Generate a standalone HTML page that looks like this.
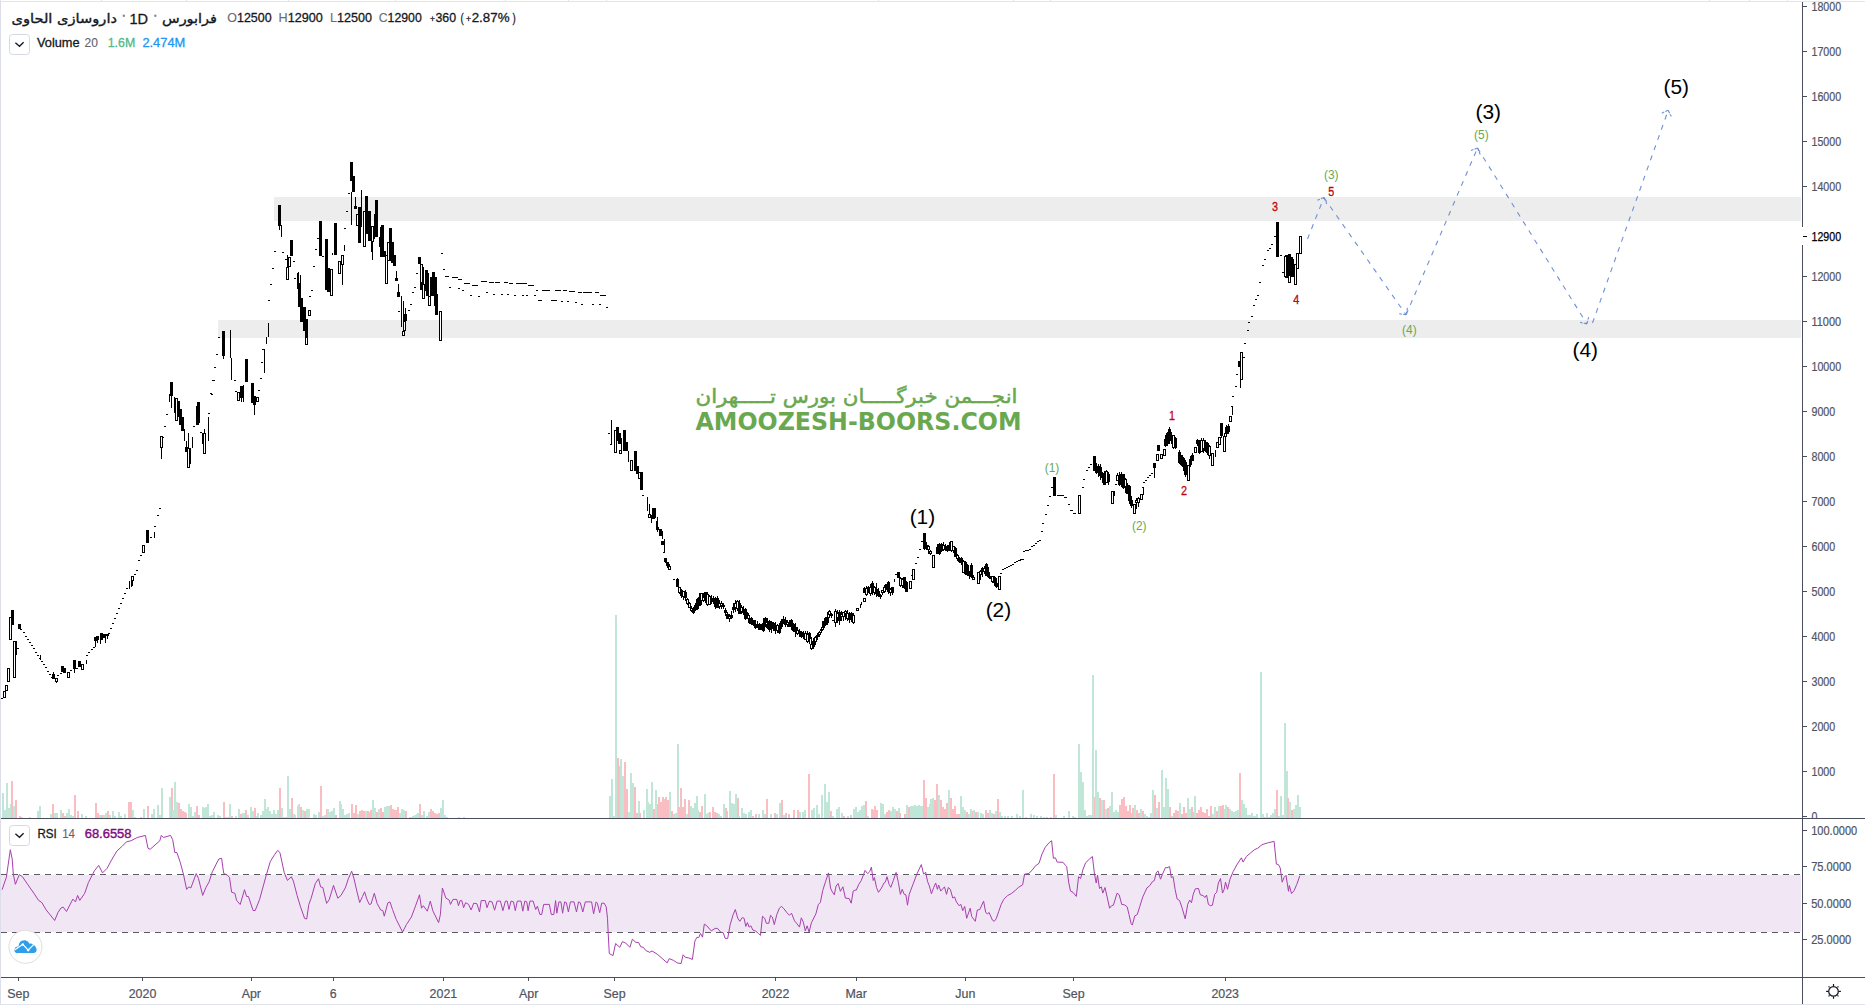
<!DOCTYPE html>
<html lang="fa"><head><meta charset="utf-8"><title>داروسازی الحاوی - 1D</title>
<style>html,body{margin:0;padding:0;background:#fff;overflow:hidden}svg{display:block}</style></head>
<body>
<svg width="1865" height="1005" viewBox="0 0 1865 1005" style="display:block;font-family:'Liberation Sans','DejaVu Sans',sans-serif">
<rect width="1865" height="1005" fill="#fff"/>
<g shape-rendering="crispEdges">
<rect x="0" y="0" width="1" height="1005" fill="#dcdfea"/>
<rect x="0" y="1" width="1865" height="1" fill="#e2e5ee"/>
<rect x="101" y="0" width="1" height="1" fill="#e2e5ee"/>
<rect x="186" y="0" width="1" height="1" fill="#e2e5ee"/>
<rect x="288" y="0" width="1" height="1" fill="#e2e5ee"/>
<rect x="395" y="0" width="1" height="1" fill="#e2e5ee"/>
<rect x="505" y="0" width="1" height="1" fill="#e2e5ee"/>
<rect x="568" y="0" width="1" height="1" fill="#e2e5ee"/>
<rect x="606" y="0" width="1" height="1" fill="#e2e5ee"/>
<rect x="878" y="0" width="1" height="1" fill="#e2e5ee"/>
<rect x="1013" y="0" width="1" height="1" fill="#e2e5ee"/>
<rect x="1050" y="0" width="1" height="1" fill="#e2e5ee"/>
<rect x="1709" y="0" width="1" height="1" fill="#e2e5ee"/>
<rect x="1749" y="0" width="1" height="1" fill="#e2e5ee"/>
<rect x="1787" y="0" width="1" height="1" fill="#e2e5ee"/>
<rect x="0" y="1004" width="1865" height="1" fill="#e1e4ec"/>
</g>
<g shape-rendering="crispEdges"><rect x="273.5" y="196.5" width="1527.5" height="24.8" fill="#ededed"/><rect x="217.6" y="320.3" width="1583.4" height="17.2" fill="#ededed"/></g>
<g shape-rendering="crispEdges"><rect x="2" y="793.1" width="2" height="24.9" fill="#bfe6d6"/><rect x="4" y="809.5" width="2" height="8.5" fill="#bfe6d6"/><rect x="6" y="783.0" width="2" height="35.0" fill="#bfe6d6"/><rect x="8" y="808.2" width="2" height="9.8" fill="#bfe6d6"/><rect x="10" y="804.4" width="2" height="13.6" fill="#bfe6d6"/><rect x="11" y="781.2" width="2" height="36.8" fill="#f9bdc2"/><rect x="13" y="805.7" width="2" height="12.3" fill="#bfe6d6"/><rect x="15" y="800.1" width="2" height="17.9" fill="#f9bdc2"/><rect x="19" y="816.3" width="2" height="1.7" fill="#f9bdc2"/><rect x="21" y="817.3" width="2" height="0.7" fill="#bfe6d6"/><rect x="29" y="816.5" width="2" height="1.5" fill="#bfe6d6"/><rect x="37" y="811.2" width="2" height="6.8" fill="#bfe6d6"/><rect x="39" y="806.2" width="2" height="11.8" fill="#bfe6d6"/><rect x="50" y="813.8" width="2" height="4.2" fill="#bfe6d6"/><rect x="52" y="803.9" width="2" height="14.1" fill="#f9bdc2"/><rect x="54" y="813.2" width="2" height="4.8" fill="#bfe6d6"/><rect x="56" y="813.2" width="2" height="4.8" fill="#bfe6d6"/><rect x="60" y="810.0" width="2" height="8.0" fill="#bfe6d6"/><rect x="62" y="813.2" width="2" height="4.8" fill="#f9bdc2"/><rect x="64" y="815.8" width="2" height="2.2" fill="#f9bdc2"/><rect x="66" y="813.2" width="2" height="4.8" fill="#bfe6d6"/><rect x="68" y="808.7" width="2" height="9.3" fill="#bfe6d6"/><rect x="70" y="815.3" width="2" height="2.7" fill="#bfe6d6"/><rect x="72" y="815.8" width="2" height="2.2" fill="#bfe6d6"/><rect x="74" y="795.1" width="2" height="22.9" fill="#f9bdc2"/><rect x="77" y="811.2" width="2" height="6.8" fill="#f9bdc2"/><rect x="81" y="814.0" width="2" height="4.0" fill="#bfe6d6"/><rect x="85" y="816.3" width="2" height="1.7" fill="#bfe6d6"/><rect x="95" y="803.2" width="2" height="14.8" fill="#f9bdc2"/><rect x="97" y="813.2" width="2" height="4.8" fill="#f9bdc2"/><rect x="99" y="814.5" width="2" height="3.5" fill="#bfe6d6"/><rect x="101" y="814.5" width="2" height="3.5" fill="#f9bdc2"/><rect x="103" y="815.3" width="2" height="2.7" fill="#bfe6d6"/><rect x="105" y="813.2" width="2" height="4.8" fill="#bfe6d6"/><rect x="107" y="811.2" width="2" height="6.8" fill="#f9bdc2"/><rect x="109" y="814.5" width="2" height="3.5" fill="#bfe6d6"/><rect x="112" y="811.2" width="2" height="6.8" fill="#bfe6d6"/><rect x="114" y="815.8" width="2" height="2.2" fill="#bfe6d6"/><rect x="118" y="812.0" width="2" height="6.0" fill="#bfe6d6"/><rect x="120" y="815.8" width="2" height="2.2" fill="#bfe6d6"/><rect x="124" y="814.0" width="2" height="4.0" fill="#bfe6d6"/><rect x="128" y="801.9" width="2" height="16.1" fill="#f9bdc2"/><rect x="130" y="801.9" width="2" height="16.1" fill="#f9bdc2"/><rect x="132" y="810.0" width="2" height="8.0" fill="#bfe6d6"/><rect x="134" y="817.3" width="2" height="0.7" fill="#bfe6d6"/><rect x="140" y="817.0" width="2" height="1.0" fill="#bfe6d6"/><rect x="143" y="809.0" width="2" height="9.0" fill="#bfe6d6"/><rect x="147" y="806.2" width="2" height="11.8" fill="#f9bdc2"/><rect x="151" y="813.8" width="2" height="4.2" fill="#bfe6d6"/><rect x="153" y="809.0" width="2" height="9.0" fill="#bfe6d6"/><rect x="157" y="805.2" width="2" height="12.8" fill="#bfe6d6"/><rect x="159" y="815.3" width="2" height="2.7" fill="#bfe6d6"/><rect x="161" y="788.0" width="2" height="30.0" fill="#bfe6d6"/><rect x="169" y="796.9" width="2" height="21.1" fill="#bfe6d6"/><rect x="171" y="788.0" width="2" height="30.0" fill="#f9bdc2"/><rect x="172" y="809.5" width="2" height="8.5" fill="#bfe6d6"/><rect x="174" y="782.0" width="2" height="36.0" fill="#bfe6d6"/><rect x="176" y="801.9" width="2" height="16.1" fill="#bfe6d6"/><rect x="178" y="803.2" width="2" height="14.8" fill="#f9bdc2"/><rect x="180" y="808.7" width="2" height="9.3" fill="#f9bdc2"/><rect x="182" y="810.7" width="2" height="7.3" fill="#f9bdc2"/><rect x="184" y="812.0" width="2" height="6.0" fill="#f9bdc2"/><rect x="185" y="812.7" width="2" height="5.3" fill="#f9bdc2"/><rect x="188" y="804.4" width="2" height="13.6" fill="#bfe6d6"/><rect x="190" y="806.9" width="2" height="11.1" fill="#bfe6d6"/><rect x="192" y="815.8" width="2" height="2.2" fill="#bfe6d6"/><rect x="194" y="812.0" width="2" height="6.0" fill="#bfe6d6"/><rect x="196" y="806.2" width="2" height="11.8" fill="#f9bdc2"/><rect x="198" y="814.5" width="2" height="3.5" fill="#f9bdc2"/><rect x="202" y="806.9" width="2" height="11.1" fill="#bfe6d6"/><rect x="204" y="807.7" width="2" height="10.3" fill="#bfe6d6"/><rect x="205" y="806.9" width="2" height="11.1" fill="#bfe6d6"/><rect x="207" y="803.9" width="2" height="14.1" fill="#bfe6d6"/><rect x="209" y="815.8" width="2" height="2.2" fill="#bfe6d6"/><rect x="211" y="815.3" width="2" height="2.7" fill="#bfe6d6"/><rect x="213" y="812.0" width="2" height="6.0" fill="#bfe6d6"/><rect x="217" y="815.3" width="2" height="2.7" fill="#bfe6d6"/><rect x="219" y="816.3" width="2" height="1.7" fill="#bfe6d6"/><rect x="223" y="801.9" width="2" height="16.1" fill="#f9bdc2"/><rect x="225" y="817.0" width="2" height="1.0" fill="#bfe6d6"/><rect x="227" y="817.0" width="2" height="1.0" fill="#bfe6d6"/><rect x="229" y="803.9" width="2" height="14.1" fill="#bfe6d6"/><rect x="231" y="816.3" width="2" height="1.7" fill="#f9bdc2"/><rect x="235" y="815.8" width="2" height="2.2" fill="#bfe6d6"/><rect x="238" y="809.0" width="2" height="9.0" fill="#bfe6d6"/><rect x="240" y="814.0" width="2" height="4.0" fill="#f9bdc2"/><rect x="242" y="812.5" width="2" height="5.5" fill="#bfe6d6"/><rect x="243" y="812.7" width="2" height="5.3" fill="#bfe6d6"/><rect x="245" y="810.2" width="2" height="7.8" fill="#f9bdc2"/><rect x="247" y="814.5" width="2" height="3.5" fill="#bfe6d6"/><rect x="250" y="806.9" width="2" height="11.1" fill="#bfe6d6"/><rect x="252" y="810.7" width="2" height="7.3" fill="#bfe6d6"/><rect x="254" y="808.2" width="2" height="9.8" fill="#f9bdc2"/><rect x="256" y="815.8" width="2" height="2.2" fill="#bfe6d6"/><rect x="257" y="813.2" width="2" height="4.8" fill="#bfe6d6"/><rect x="260" y="815.3" width="2" height="2.7" fill="#bfe6d6"/><rect x="262" y="810.7" width="2" height="7.3" fill="#bfe6d6"/><rect x="264" y="798.9" width="2" height="19.1" fill="#bfe6d6"/><rect x="266" y="808.7" width="2" height="9.3" fill="#bfe6d6"/><rect x="267" y="806.9" width="2" height="11.1" fill="#bfe6d6"/><rect x="269" y="810.7" width="2" height="7.3" fill="#bfe6d6"/><rect x="271" y="813.8" width="2" height="4.2" fill="#bfe6d6"/><rect x="273" y="810.2" width="2" height="7.8" fill="#bfe6d6"/><rect x="275" y="813.8" width="2" height="4.2" fill="#bfe6d6"/><rect x="277" y="809.5" width="2" height="8.5" fill="#bfe6d6"/><rect x="279" y="788.0" width="2" height="30.0" fill="#f9bdc2"/><rect x="281" y="808.2" width="2" height="9.8" fill="#bfe6d6"/><rect x="283" y="817.0" width="2" height="1.0" fill="#bfe6d6"/><rect x="285" y="816.5" width="2" height="1.5" fill="#bfe6d6"/><rect x="287" y="775.9" width="2" height="42.1" fill="#bfe6d6"/><rect x="289" y="808.7" width="2" height="9.3" fill="#bfe6d6"/><rect x="291" y="798.1" width="2" height="19.9" fill="#f9bdc2"/><rect x="293" y="814.0" width="2" height="4.0" fill="#bfe6d6"/><rect x="294" y="814.5" width="2" height="3.5" fill="#bfe6d6"/><rect x="297" y="805.7" width="2" height="12.3" fill="#bfe6d6"/><rect x="298" y="804.4" width="2" height="13.6" fill="#bfe6d6"/><rect x="300" y="806.9" width="2" height="11.1" fill="#f9bdc2"/><rect x="302" y="809.5" width="2" height="8.5" fill="#bfe6d6"/><rect x="304" y="810.7" width="2" height="7.3" fill="#f9bdc2"/><rect x="306" y="809.0" width="2" height="9.0" fill="#bfe6d6"/><rect x="308" y="809.0" width="2" height="9.0" fill="#bfe6d6"/><rect x="313" y="814.0" width="2" height="4.0" fill="#bfe6d6"/><rect x="315" y="814.5" width="2" height="3.5" fill="#bfe6d6"/><rect x="318" y="812.0" width="2" height="6.0" fill="#bfe6d6"/><rect x="320" y="786.0" width="2" height="32.0" fill="#f9bdc2"/><rect x="322" y="815.8" width="2" height="2.2" fill="#bfe6d6"/><rect x="324" y="814.5" width="2" height="3.5" fill="#bfe6d6"/><rect x="326" y="809.0" width="2" height="9.0" fill="#f9bdc2"/><rect x="327" y="809.0" width="2" height="9.0" fill="#bfe6d6"/><rect x="329" y="812.0" width="2" height="6.0" fill="#bfe6d6"/><rect x="331" y="810.7" width="2" height="7.3" fill="#bfe6d6"/><rect x="333" y="808.2" width="2" height="9.8" fill="#bfe6d6"/><rect x="335" y="815.3" width="2" height="2.7" fill="#f9bdc2"/><rect x="339" y="800.6" width="2" height="17.4" fill="#bfe6d6"/><rect x="340" y="804.4" width="2" height="13.6" fill="#bfe6d6"/><rect x="342" y="808.7" width="2" height="9.3" fill="#bfe6d6"/><rect x="344" y="814.5" width="2" height="3.5" fill="#bfe6d6"/><rect x="346" y="814.0" width="2" height="4.0" fill="#bfe6d6"/><rect x="348" y="813.2" width="2" height="4.8" fill="#bfe6d6"/><rect x="351" y="803.9" width="2" height="14.1" fill="#f9bdc2"/><rect x="353" y="812.5" width="2" height="5.5" fill="#f9bdc2"/><rect x="355" y="805.2" width="2" height="12.8" fill="#f9bdc2"/><rect x="357" y="813.8" width="2" height="4.2" fill="#bfe6d6"/><rect x="359" y="810.7" width="2" height="7.3" fill="#f9bdc2"/><rect x="361" y="810.0" width="2" height="8.0" fill="#f9bdc2"/><rect x="363" y="811.2" width="2" height="6.8" fill="#f9bdc2"/><rect x="365" y="810.7" width="2" height="7.3" fill="#bfe6d6"/><rect x="367" y="811.2" width="2" height="6.8" fill="#f9bdc2"/><rect x="369" y="812.0" width="2" height="6.0" fill="#f9bdc2"/><rect x="370" y="810.0" width="2" height="8.0" fill="#f9bdc2"/><rect x="372" y="800.1" width="2" height="17.9" fill="#bfe6d6"/><rect x="374" y="808.2" width="2" height="9.8" fill="#bfe6d6"/><rect x="376" y="812.0" width="2" height="6.0" fill="#f9bdc2"/><rect x="378" y="808.7" width="2" height="9.3" fill="#bfe6d6"/><rect x="380" y="808.2" width="2" height="9.8" fill="#f9bdc2"/><rect x="382" y="812.0" width="2" height="6.0" fill="#f9bdc2"/><rect x="384" y="807.4" width="2" height="10.6" fill="#bfe6d6"/><rect x="386" y="805.7" width="2" height="12.3" fill="#bfe6d6"/><rect x="388" y="806.2" width="2" height="11.8" fill="#bfe6d6"/><rect x="390" y="805.2" width="2" height="12.8" fill="#f9bdc2"/><rect x="392" y="808.7" width="2" height="9.3" fill="#f9bdc2"/><rect x="393" y="809.5" width="2" height="8.5" fill="#f9bdc2"/><rect x="395" y="810.0" width="2" height="8.0" fill="#f9bdc2"/><rect x="397" y="806.9" width="2" height="11.1" fill="#f9bdc2"/><rect x="399" y="812.7" width="2" height="5.3" fill="#bfe6d6"/><rect x="401" y="809.0" width="2" height="9.0" fill="#bfe6d6"/><rect x="403" y="810.0" width="2" height="8.0" fill="#bfe6d6"/><rect x="405" y="811.2" width="2" height="6.8" fill="#f9bdc2"/><rect x="409" y="817.0" width="2" height="1.0" fill="#bfe6d6"/><rect x="411" y="816.5" width="2" height="1.5" fill="#bfe6d6"/><rect x="412" y="815.8" width="2" height="2.2" fill="#bfe6d6"/><rect x="414" y="814.5" width="2" height="3.5" fill="#bfe6d6"/><rect x="416" y="813.8" width="2" height="4.2" fill="#bfe6d6"/><rect x="417" y="813.2" width="2" height="4.8" fill="#bfe6d6"/><rect x="419" y="803.9" width="2" height="14.1" fill="#f9bdc2"/><rect x="421" y="814.5" width="2" height="3.5" fill="#bfe6d6"/><rect x="423" y="811.2" width="2" height="6.8" fill="#bfe6d6"/><rect x="426" y="816.3" width="2" height="1.7" fill="#bfe6d6"/><rect x="428" y="812.0" width="2" height="6.0" fill="#bfe6d6"/><rect x="430" y="808.7" width="2" height="9.3" fill="#f9bdc2"/><rect x="432" y="811.2" width="2" height="6.8" fill="#f9bdc2"/><rect x="434" y="812.7" width="2" height="5.3" fill="#f9bdc2"/><rect x="436" y="813.8" width="2" height="4.2" fill="#f9bdc2"/><rect x="438" y="813.2" width="2" height="4.8" fill="#f9bdc2"/><rect x="440" y="807.7" width="2" height="10.3" fill="#bfe6d6"/><rect x="442" y="800.1" width="2" height="17.9" fill="#bfe6d6"/><rect x="444" y="814.5" width="2" height="3.5" fill="#bfe6d6"/><rect x="446" y="817.0" width="2" height="1.0" fill="#bfe6d6"/><rect x="458" y="817.3" width="2" height="0.7" fill="#bfe6d6"/><rect x="463" y="817.3" width="2" height="0.7" fill="#bfe6d6"/><rect x="609" y="796.1" width="2" height="21.9" fill="#bfe6d6"/><rect x="611" y="778.9" width="2" height="39.1" fill="#bfe6d6"/><rect x="613" y="815.5" width="2" height="2.5" fill="#bfe6d6"/><rect x="615" y="615.1" width="2" height="202.9" fill="#bfe6d6"/><rect x="617" y="757.5" width="2" height="60.5" fill="#f9bdc2"/><rect x="618" y="766.3" width="2" height="51.7" fill="#f9bdc2"/><rect x="620" y="758.8" width="2" height="59.2" fill="#bfe6d6"/><rect x="622" y="776.4" width="2" height="41.6" fill="#bfe6d6"/><rect x="624" y="762.0" width="2" height="56.0" fill="#f9bdc2"/><rect x="626" y="789.0" width="2" height="29.0" fill="#f9bdc2"/><rect x="628" y="811.7" width="2" height="6.3" fill="#bfe6d6"/><rect x="630" y="773.1" width="2" height="44.9" fill="#bfe6d6"/><rect x="632" y="782.7" width="2" height="35.3" fill="#bfe6d6"/><rect x="634" y="786.5" width="2" height="31.5" fill="#f9bdc2"/><rect x="636" y="813.0" width="2" height="5.0" fill="#f9bdc2"/><rect x="638" y="801.1" width="2" height="16.9" fill="#bfe6d6"/><rect x="639" y="813.0" width="2" height="5.0" fill="#f9bdc2"/><rect x="643" y="810.4" width="2" height="7.6" fill="#bfe6d6"/><rect x="646" y="788.5" width="2" height="29.5" fill="#bfe6d6"/><rect x="647" y="801.6" width="2" height="16.4" fill="#bfe6d6"/><rect x="649" y="803.6" width="2" height="14.4" fill="#bfe6d6"/><rect x="651" y="782.0" width="2" height="36.0" fill="#bfe6d6"/><rect x="653" y="809.2" width="2" height="8.8" fill="#f9bdc2"/><rect x="655" y="789.5" width="2" height="28.5" fill="#bfe6d6"/><rect x="657" y="804.1" width="2" height="13.9" fill="#f9bdc2"/><rect x="658" y="797.1" width="2" height="20.9" fill="#f9bdc2"/><rect x="660" y="801.6" width="2" height="16.4" fill="#f9bdc2"/><rect x="662" y="797.1" width="2" height="20.9" fill="#f9bdc2"/><rect x="664" y="799.1" width="2" height="18.9" fill="#f9bdc2"/><rect x="665" y="796.6" width="2" height="21.4" fill="#f9bdc2"/><rect x="667" y="799.6" width="2" height="18.4" fill="#f9bdc2"/><rect x="669" y="792.3" width="2" height="25.7" fill="#bfe6d6"/><rect x="671" y="811.2" width="2" height="6.8" fill="#f9bdc2"/><rect x="673" y="814.2" width="2" height="3.8" fill="#bfe6d6"/><rect x="675" y="813.0" width="2" height="5.0" fill="#bfe6d6"/><rect x="677" y="744.2" width="2" height="73.8" fill="#bfe6d6"/><rect x="678" y="807.2" width="2" height="10.8" fill="#f9bdc2"/><rect x="680" y="787.8" width="2" height="30.2" fill="#f9bdc2"/><rect x="682" y="806.7" width="2" height="11.3" fill="#f9bdc2"/><rect x="684" y="799.1" width="2" height="18.9" fill="#f9bdc2"/><rect x="686" y="813.7" width="2" height="4.3" fill="#bfe6d6"/><rect x="688" y="800.4" width="2" height="17.6" fill="#f9bdc2"/><rect x="690" y="806.1" width="2" height="11.9" fill="#bfe6d6"/><rect x="692" y="807.9" width="2" height="10.1" fill="#bfe6d6"/><rect x="694" y="802.9" width="2" height="15.1" fill="#bfe6d6"/><rect x="696" y="796.1" width="2" height="21.9" fill="#bfe6d6"/><rect x="697" y="810.4" width="2" height="7.6" fill="#bfe6d6"/><rect x="699" y="811.7" width="2" height="6.3" fill="#f9bdc2"/><rect x="701" y="806.1" width="2" height="11.9" fill="#f9bdc2"/><rect x="704" y="794.1" width="2" height="23.9" fill="#bfe6d6"/><rect x="706" y="813.7" width="2" height="4.3" fill="#bfe6d6"/><rect x="707" y="813.0" width="2" height="5.0" fill="#bfe6d6"/><rect x="709" y="811.7" width="2" height="6.3" fill="#f9bdc2"/><rect x="712" y="807.2" width="2" height="10.8" fill="#f9bdc2"/><rect x="714" y="812.4" width="2" height="5.6" fill="#f9bdc2"/><rect x="716" y="813.0" width="2" height="5.0" fill="#f9bdc2"/><rect x="718" y="814.2" width="2" height="3.8" fill="#bfe6d6"/><rect x="720" y="815.5" width="2" height="2.5" fill="#bfe6d6"/><rect x="723" y="804.1" width="2" height="13.9" fill="#bfe6d6"/><rect x="725" y="807.9" width="2" height="10.1" fill="#f9bdc2"/><rect x="726" y="811.2" width="2" height="6.8" fill="#f9bdc2"/><rect x="729" y="791.0" width="2" height="27.0" fill="#bfe6d6"/><rect x="731" y="802.9" width="2" height="15.1" fill="#bfe6d6"/><rect x="733" y="803.6" width="2" height="14.4" fill="#bfe6d6"/><rect x="735" y="794.1" width="2" height="23.9" fill="#bfe6d6"/><rect x="737" y="798.3" width="2" height="19.7" fill="#f9bdc2"/><rect x="738" y="815.5" width="2" height="2.5" fill="#bfe6d6"/><rect x="741" y="807.9" width="2" height="10.1" fill="#bfe6d6"/><rect x="743" y="813.0" width="2" height="5.0" fill="#bfe6d6"/><rect x="745" y="814.2" width="2" height="3.8" fill="#bfe6d6"/><rect x="748" y="811.7" width="2" height="6.3" fill="#bfe6d6"/><rect x="750" y="810.4" width="2" height="7.6" fill="#bfe6d6"/><rect x="752" y="815.5" width="2" height="2.5" fill="#f9bdc2"/><rect x="755" y="813.7" width="2" height="4.3" fill="#f9bdc2"/><rect x="758" y="814.2" width="2" height="3.8" fill="#bfe6d6"/><rect x="762" y="810.4" width="2" height="7.6" fill="#bfe6d6"/><rect x="764" y="814.2" width="2" height="3.8" fill="#bfe6d6"/><rect x="766" y="799.1" width="2" height="18.9" fill="#f9bdc2"/><rect x="770" y="814.2" width="2" height="3.8" fill="#bfe6d6"/><rect x="774" y="813.0" width="2" height="5.0" fill="#f9bdc2"/><rect x="776" y="814.2" width="2" height="3.8" fill="#bfe6d6"/><rect x="779" y="802.9" width="2" height="15.1" fill="#bfe6d6"/><rect x="781" y="800.4" width="2" height="17.6" fill="#f9bdc2"/><rect x="783" y="814.7" width="2" height="3.3" fill="#bfe6d6"/><rect x="785" y="813.0" width="2" height="5.0" fill="#f9bdc2"/><rect x="788" y="813.7" width="2" height="4.3" fill="#f9bdc2"/><rect x="793" y="810.4" width="2" height="7.6" fill="#f9bdc2"/><rect x="797" y="809.9" width="2" height="8.1" fill="#f9bdc2"/><rect x="799" y="811.7" width="2" height="6.3" fill="#bfe6d6"/><rect x="802" y="812.2" width="2" height="5.8" fill="#bfe6d6"/><rect x="804" y="809.7" width="2" height="8.3" fill="#bfe6d6"/><rect x="808" y="773.9" width="2" height="44.1" fill="#f9bdc2"/><rect x="811" y="809.7" width="2" height="8.3" fill="#bfe6d6"/><rect x="813" y="807.9" width="2" height="10.1" fill="#bfe6d6"/><rect x="816" y="805.4" width="2" height="12.6" fill="#bfe6d6"/><rect x="818" y="814.2" width="2" height="3.8" fill="#bfe6d6"/><rect x="821" y="795.3" width="2" height="22.7" fill="#bfe6d6"/><rect x="824" y="784.0" width="2" height="34.0" fill="#bfe6d6"/><rect x="826" y="801.6" width="2" height="16.4" fill="#bfe6d6"/><rect x="828" y="792.0" width="2" height="26.0" fill="#bfe6d6"/><rect x="830" y="811.2" width="2" height="6.8" fill="#f9bdc2"/><rect x="832" y="815.5" width="2" height="2.5" fill="#bfe6d6"/><rect x="836" y="808.7" width="2" height="9.3" fill="#bfe6d6"/><rect x="838" y="807.2" width="2" height="10.8" fill="#bfe6d6"/><rect x="841" y="813.0" width="2" height="5.0" fill="#bfe6d6"/><rect x="843" y="815.5" width="2" height="2.5" fill="#f9bdc2"/><rect x="847" y="815.5" width="2" height="2.5" fill="#bfe6d6"/><rect x="850" y="814.7" width="2" height="3.3" fill="#f9bdc2"/><rect x="853" y="808.7" width="2" height="9.3" fill="#bfe6d6"/><rect x="855" y="807.2" width="2" height="10.8" fill="#bfe6d6"/><rect x="857" y="811.7" width="2" height="6.3" fill="#bfe6d6"/><rect x="859" y="810.4" width="2" height="7.6" fill="#bfe6d6"/><rect x="861" y="806.1" width="2" height="11.9" fill="#bfe6d6"/><rect x="863" y="805.4" width="2" height="12.6" fill="#bfe6d6"/><rect x="865" y="801.1" width="2" height="16.9" fill="#f9bdc2"/><rect x="867" y="815.5" width="2" height="2.5" fill="#bfe6d6"/><rect x="871" y="808.7" width="2" height="9.3" fill="#f9bdc2"/><rect x="873" y="809.7" width="2" height="8.3" fill="#f9bdc2"/><rect x="874" y="806.1" width="2" height="11.9" fill="#f9bdc2"/><rect x="876" y="809.7" width="2" height="8.3" fill="#f9bdc2"/><rect x="880" y="802.9" width="2" height="15.1" fill="#bfe6d6"/><rect x="882" y="804.1" width="2" height="13.9" fill="#bfe6d6"/><rect x="884" y="814.2" width="2" height="3.8" fill="#bfe6d6"/><rect x="886" y="811.7" width="2" height="6.3" fill="#f9bdc2"/><rect x="888" y="810.4" width="2" height="7.6" fill="#f9bdc2"/><rect x="890" y="811.2" width="2" height="6.8" fill="#bfe6d6"/><rect x="892" y="807.2" width="2" height="10.8" fill="#bfe6d6"/><rect x="894" y="808.7" width="2" height="9.3" fill="#bfe6d6"/><rect x="896" y="811.2" width="2" height="6.8" fill="#f9bdc2"/><rect x="898" y="807.9" width="2" height="10.1" fill="#bfe6d6"/><rect x="899" y="813.0" width="2" height="5.0" fill="#f9bdc2"/><rect x="904" y="813.7" width="2" height="4.3" fill="#f9bdc2"/><rect x="906" y="805.4" width="2" height="12.6" fill="#bfe6d6"/><rect x="908" y="806.7" width="2" height="11.3" fill="#f9bdc2"/><rect x="910" y="806.1" width="2" height="11.9" fill="#bfe6d6"/><rect x="912" y="805.6" width="2" height="12.4" fill="#bfe6d6"/><rect x="914" y="805.1" width="2" height="12.9" fill="#bfe6d6"/><rect x="916" y="805.6" width="2" height="12.4" fill="#bfe6d6"/><rect x="918" y="805.4" width="2" height="12.6" fill="#bfe6d6"/><rect x="920" y="805.9" width="2" height="12.1" fill="#bfe6d6"/><rect x="922" y="805.6" width="2" height="12.4" fill="#bfe6d6"/><rect x="923" y="779.9" width="2" height="38.1" fill="#f9bdc2"/><rect x="925" y="797.8" width="2" height="20.2" fill="#f9bdc2"/><rect x="927" y="806.7" width="2" height="11.3" fill="#bfe6d6"/><rect x="929" y="804.1" width="2" height="13.9" fill="#bfe6d6"/><rect x="930" y="799.1" width="2" height="18.9" fill="#bfe6d6"/><rect x="932" y="798.3" width="2" height="19.7" fill="#bfe6d6"/><rect x="934" y="800.4" width="2" height="17.6" fill="#f9bdc2"/><rect x="936" y="784.0" width="2" height="34.0" fill="#f9bdc2"/><rect x="938" y="795.3" width="2" height="22.7" fill="#bfe6d6"/><rect x="940" y="800.4" width="2" height="17.6" fill="#f9bdc2"/><rect x="942" y="807.2" width="2" height="10.8" fill="#f9bdc2"/><rect x="944" y="809.2" width="2" height="8.8" fill="#f9bdc2"/><rect x="946" y="802.9" width="2" height="15.1" fill="#f9bdc2"/><rect x="948" y="790.3" width="2" height="27.7" fill="#bfe6d6"/><rect x="950" y="798.3" width="2" height="19.7" fill="#f9bdc2"/><rect x="952" y="809.2" width="2" height="8.8" fill="#f9bdc2"/><rect x="954" y="806.1" width="2" height="11.9" fill="#f9bdc2"/><rect x="956" y="813.7" width="2" height="4.3" fill="#f9bdc2"/><rect x="958" y="814.2" width="2" height="3.8" fill="#f9bdc2"/><rect x="960" y="796.1" width="2" height="21.9" fill="#bfe6d6"/><rect x="962" y="806.7" width="2" height="11.3" fill="#bfe6d6"/><rect x="964" y="810.4" width="2" height="7.6" fill="#bfe6d6"/><rect x="966" y="811.7" width="2" height="6.3" fill="#f9bdc2"/><rect x="968" y="813.7" width="2" height="4.3" fill="#bfe6d6"/><rect x="970" y="809.2" width="2" height="8.8" fill="#bfe6d6"/><rect x="972" y="811.2" width="2" height="6.8" fill="#f9bdc2"/><rect x="973" y="810.4" width="2" height="7.6" fill="#bfe6d6"/><rect x="975" y="811.7" width="2" height="6.3" fill="#f9bdc2"/><rect x="977" y="812.4" width="2" height="5.6" fill="#bfe6d6"/><rect x="980" y="813.0" width="2" height="5.0" fill="#bfe6d6"/><rect x="982" y="814.2" width="2" height="3.8" fill="#bfe6d6"/><rect x="985" y="810.4" width="2" height="7.6" fill="#f9bdc2"/><rect x="987" y="813.0" width="2" height="5.0" fill="#f9bdc2"/><rect x="989" y="810.4" width="2" height="7.6" fill="#bfe6d6"/><rect x="991" y="813.0" width="2" height="5.0" fill="#bfe6d6"/><rect x="993" y="814.2" width="2" height="3.8" fill="#f9bdc2"/><rect x="995" y="811.2" width="2" height="6.8" fill="#bfe6d6"/><rect x="997" y="799.1" width="2" height="18.9" fill="#f9bdc2"/><rect x="999" y="811.7" width="2" height="6.3" fill="#bfe6d6"/><rect x="1001" y="815.5" width="2" height="2.5" fill="#bfe6d6"/><rect x="1004" y="815.5" width="2" height="2.5" fill="#bfe6d6"/><rect x="1007" y="816.2" width="2" height="1.8" fill="#bfe6d6"/><rect x="1011" y="816.2" width="2" height="1.8" fill="#bfe6d6"/><rect x="1016" y="814.2" width="2" height="3.8" fill="#bfe6d6"/><rect x="1019" y="816.2" width="2" height="1.8" fill="#bfe6d6"/><rect x="1022" y="790.0" width="2" height="28.0" fill="#bfe6d6"/><rect x="1025" y="816.7" width="2" height="1.3" fill="#bfe6d6"/><rect x="1030" y="813.5" width="2" height="4.5" fill="#bfe6d6"/><rect x="1033" y="814.7" width="2" height="3.3" fill="#bfe6d6"/><rect x="1036" y="815.5" width="2" height="2.5" fill="#bfe6d6"/><rect x="1040" y="816.4" width="2" height="1.6" fill="#bfe6d6"/><rect x="1043" y="816.8" width="2" height="1.2" fill="#bfe6d6"/><rect x="1046" y="817.0" width="2" height="1.0" fill="#bfe6d6"/><rect x="1050" y="817.0" width="2" height="1.0" fill="#bfe6d6"/><rect x="1053" y="774.0" width="2" height="44.0" fill="#f9bdc2"/><rect x="1055" y="815.2" width="2" height="2.8" fill="#bfe6d6"/><rect x="1063" y="816.4" width="2" height="1.6" fill="#bfe6d6"/><rect x="1068" y="811.4" width="2" height="6.6" fill="#bfe6d6"/><rect x="1072" y="816.4" width="2" height="1.6" fill="#bfe6d6"/><rect x="1074" y="817.3" width="2" height="0.7" fill="#bfe6d6"/><rect x="1078" y="743.9" width="2" height="74.1" fill="#bfe6d6"/><rect x="1080" y="772.0" width="2" height="46.0" fill="#bfe6d6"/><rect x="1082" y="782.0" width="2" height="36.0" fill="#bfe6d6"/><rect x="1084" y="810.2" width="2" height="7.8" fill="#bfe6d6"/><rect x="1086" y="816.4" width="2" height="1.6" fill="#bfe6d6"/><rect x="1088" y="815.2" width="2" height="2.8" fill="#bfe6d6"/><rect x="1090" y="815.2" width="2" height="2.8" fill="#bfe6d6"/><rect x="1092" y="674.9" width="2" height="143.1" fill="#bfe6d6"/><rect x="1094" y="797.3" width="2" height="20.7" fill="#f9bdc2"/><rect x="1095" y="750.2" width="2" height="67.8" fill="#bfe6d6"/><rect x="1097" y="792.2" width="2" height="25.8" fill="#bfe6d6"/><rect x="1099" y="798.2" width="2" height="19.8" fill="#f9bdc2"/><rect x="1101" y="800.3" width="2" height="17.7" fill="#bfe6d6"/><rect x="1103" y="800.3" width="2" height="17.7" fill="#f9bdc2"/><rect x="1105" y="809.3" width="2" height="8.7" fill="#bfe6d6"/><rect x="1107" y="808.0" width="2" height="10.0" fill="#f9bdc2"/><rect x="1109" y="806.2" width="2" height="11.8" fill="#bfe6d6"/><rect x="1111" y="792.2" width="2" height="25.8" fill="#bfe6d6"/><rect x="1113" y="812.3" width="2" height="5.7" fill="#bfe6d6"/><rect x="1115" y="810.2" width="2" height="7.8" fill="#bfe6d6"/><rect x="1117" y="812.3" width="2" height="5.7" fill="#bfe6d6"/><rect x="1119" y="805.1" width="2" height="12.9" fill="#f9bdc2"/><rect x="1121" y="799.4" width="2" height="18.6" fill="#f9bdc2"/><rect x="1123" y="797.3" width="2" height="20.7" fill="#f9bdc2"/><rect x="1125" y="806.2" width="2" height="11.8" fill="#f9bdc2"/><rect x="1127" y="811.4" width="2" height="6.6" fill="#f9bdc2"/><rect x="1129" y="805.1" width="2" height="12.9" fill="#f9bdc2"/><rect x="1130" y="812.8" width="2" height="5.2" fill="#f9bdc2"/><rect x="1132" y="808.0" width="2" height="10.0" fill="#f9bdc2"/><rect x="1134" y="805.1" width="2" height="12.9" fill="#bfe6d6"/><rect x="1136" y="810.2" width="2" height="7.8" fill="#f9bdc2"/><rect x="1138" y="812.8" width="2" height="5.2" fill="#f9bdc2"/><rect x="1140" y="809.3" width="2" height="8.7" fill="#bfe6d6"/><rect x="1142" y="811.4" width="2" height="6.6" fill="#f9bdc2"/><rect x="1144" y="814.1" width="2" height="3.9" fill="#bfe6d6"/><rect x="1146" y="816.4" width="2" height="1.6" fill="#bfe6d6"/><rect x="1148" y="817.3" width="2" height="0.7" fill="#bfe6d6"/><rect x="1150" y="812.8" width="2" height="5.2" fill="#bfe6d6"/><rect x="1152" y="790.1" width="2" height="27.9" fill="#bfe6d6"/><rect x="1154" y="794.9" width="2" height="23.1" fill="#f9bdc2"/><rect x="1156" y="808.0" width="2" height="10.0" fill="#bfe6d6"/><rect x="1158" y="802.1" width="2" height="15.9" fill="#f9bdc2"/><rect x="1161" y="770.2" width="2" height="47.8" fill="#bfe6d6"/><rect x="1163" y="806.9" width="2" height="11.1" fill="#bfe6d6"/><rect x="1165" y="777.9" width="2" height="40.1" fill="#bfe6d6"/><rect x="1167" y="788.7" width="2" height="29.3" fill="#bfe6d6"/><rect x="1169" y="806.9" width="2" height="11.1" fill="#f9bdc2"/><rect x="1171" y="816.4" width="2" height="1.6" fill="#bfe6d6"/><rect x="1173" y="812.8" width="2" height="5.2" fill="#f9bdc2"/><rect x="1175" y="810.2" width="2" height="7.8" fill="#f9bdc2"/><rect x="1177" y="811.4" width="2" height="6.6" fill="#f9bdc2"/><rect x="1179" y="803.0" width="2" height="15.0" fill="#bfe6d6"/><rect x="1181" y="814.1" width="2" height="3.9" fill="#f9bdc2"/><rect x="1183" y="806.9" width="2" height="11.1" fill="#f9bdc2"/><rect x="1185" y="812.8" width="2" height="5.2" fill="#f9bdc2"/><rect x="1187" y="798.2" width="2" height="19.8" fill="#bfe6d6"/><rect x="1189" y="809.3" width="2" height="8.7" fill="#bfe6d6"/><rect x="1191" y="806.9" width="2" height="11.1" fill="#f9bdc2"/><rect x="1193" y="812.3" width="2" height="5.7" fill="#f9bdc2"/><rect x="1194" y="796.2" width="2" height="21.8" fill="#bfe6d6"/><rect x="1196" y="812.8" width="2" height="5.2" fill="#f9bdc2"/><rect x="1198" y="810.2" width="2" height="7.8" fill="#f9bdc2"/><rect x="1200" y="806.9" width="2" height="11.1" fill="#f9bdc2"/><rect x="1202" y="812.0" width="2" height="6.0" fill="#f9bdc2"/><rect x="1204" y="812.8" width="2" height="5.2" fill="#f9bdc2"/><rect x="1206" y="809.3" width="2" height="8.7" fill="#f9bdc2"/><rect x="1208" y="816.4" width="2" height="1.6" fill="#f9bdc2"/><rect x="1210" y="806.2" width="2" height="11.8" fill="#f9bdc2"/><rect x="1212" y="814.1" width="2" height="3.9" fill="#bfe6d6"/><rect x="1214" y="806.9" width="2" height="11.1" fill="#bfe6d6"/><rect x="1216" y="811.4" width="2" height="6.6" fill="#f9bdc2"/><rect x="1218" y="806.2" width="2" height="11.8" fill="#bfe6d6"/><rect x="1220" y="806.2" width="2" height="11.8" fill="#f9bdc2"/><rect x="1222" y="805.1" width="2" height="12.9" fill="#f9bdc2"/><rect x="1224" y="809.3" width="2" height="8.7" fill="#bfe6d6"/><rect x="1225" y="805.1" width="2" height="12.9" fill="#bfe6d6"/><rect x="1227" y="806.9" width="2" height="11.1" fill="#f9bdc2"/><rect x="1229" y="809.3" width="2" height="8.7" fill="#bfe6d6"/><rect x="1231" y="811.4" width="2" height="6.6" fill="#bfe6d6"/><rect x="1233" y="812.3" width="2" height="5.7" fill="#bfe6d6"/><rect x="1235" y="811.4" width="2" height="6.6" fill="#bfe6d6"/><rect x="1237" y="810.2" width="2" height="7.8" fill="#bfe6d6"/><rect x="1239" y="772.9" width="2" height="45.1" fill="#f9bdc2"/><rect x="1241" y="800.3" width="2" height="17.7" fill="#bfe6d6"/><rect x="1243" y="804.1" width="2" height="13.9" fill="#bfe6d6"/><rect x="1245" y="808.0" width="2" height="10.0" fill="#bfe6d6"/><rect x="1247" y="815.2" width="2" height="2.8" fill="#bfe6d6"/><rect x="1249" y="815.2" width="2" height="2.8" fill="#bfe6d6"/><rect x="1251" y="812.8" width="2" height="5.2" fill="#bfe6d6"/><rect x="1253" y="816.4" width="2" height="1.6" fill="#bfe6d6"/><rect x="1255" y="816.4" width="2" height="1.6" fill="#bfe6d6"/><rect x="1256" y="814.1" width="2" height="3.9" fill="#bfe6d6"/><rect x="1260" y="671.9" width="2" height="146.1" fill="#bfe6d6"/><rect x="1262" y="814.1" width="2" height="3.9" fill="#bfe6d6"/><rect x="1264" y="817.3" width="2" height="0.7" fill="#bfe6d6"/><rect x="1266" y="812.8" width="2" height="5.2" fill="#bfe6d6"/><rect x="1268" y="817.3" width="2" height="0.7" fill="#bfe6d6"/><rect x="1270" y="815.2" width="2" height="2.8" fill="#bfe6d6"/><rect x="1272" y="812.8" width="2" height="5.2" fill="#bfe6d6"/><rect x="1274" y="808.9" width="2" height="9.1" fill="#bfe6d6"/><rect x="1276" y="790.1" width="2" height="27.9" fill="#f9bdc2"/><rect x="1278" y="816.4" width="2" height="1.6" fill="#bfe6d6"/><rect x="1280" y="796.2" width="2" height="21.8" fill="#bfe6d6"/><rect x="1282" y="815.2" width="2" height="2.8" fill="#bfe6d6"/><rect x="1284" y="722.9" width="2" height="95.1" fill="#bfe6d6"/><rect x="1286" y="771.1" width="2" height="46.9" fill="#bfe6d6"/><rect x="1287" y="798.2" width="2" height="19.8" fill="#f9bdc2"/><rect x="1289" y="802.1" width="2" height="15.9" fill="#bfe6d6"/><rect x="1291" y="810.2" width="2" height="7.8" fill="#f9bdc2"/><rect x="1293" y="809.3" width="2" height="8.7" fill="#bfe6d6"/><rect x="1295" y="805.1" width="2" height="12.9" fill="#bfe6d6"/><rect x="1297" y="795.1" width="2" height="22.9" fill="#bfe6d6"/><rect x="1299" y="806.9" width="2" height="11.1" fill="#bfe6d6"/></g>
<g shape-rendering="crispEdges" fill="#000"><rect x="1" y="698" width="2" height="1"/><rect x="3" y="691" width="3" height="7"/><rect x="5" y="685" width="3" height="6"/><rect x="7" y="668" width="3" height="14"/><rect x="9" y="617" width="3" height="23"/><rect x="11" y="610" width="3" height="15"/><rect x="13" y="641" width="3" height="37"/><rect x="14" y="641" width="3" height="14"/><rect x="17" y="648" width="2" height="1"/><rect x="18" y="624" width="3" height="5"/><rect x="20" y="629" width="2" height="1"/><rect x="23" y="632" width="2" height="1"/><rect x="25" y="636" width="2" height="1"/><rect x="27" y="639" width="2" height="1"/><rect x="29" y="642" width="2" height="1"/><rect x="31" y="645" width="2" height="1"/><rect x="33" y="648" width="2" height="1"/><rect x="35" y="652" width="2" height="1"/><rect x="37" y="655" width="2" height="1"/><rect x="39" y="658" width="2" height="1"/><rect x="41" y="661" width="2" height="1"/><rect x="43" y="664" width="2" height="1"/><rect x="45" y="667" width="2" height="1"/><rect x="47" y="671" width="2" height="1"/><rect x="49" y="674" width="2" height="1"/><rect x="51" y="677" width="2" height="1"/><rect x="40" y="655" width="1" height="5"/><rect x="53" y="672" width="1" height="7"/><rect x="52" y="674" width="3" height="5"/><rect x="56" y="678" width="1" height="5"/><rect x="55" y="678" width="3" height="4"/><rect x="57" y="675" width="2" height="1"/><rect x="60" y="673" width="2" height="1"/><rect x="61" y="666" width="3" height="6"/><rect x="63" y="668" width="3" height="5"/><rect x="67" y="672" width="3" height="6"/><rect x="70" y="670" width="2" height="1"/><rect x="74" y="660" width="1" height="13"/><rect x="73" y="660" width="3" height="9"/><rect x="76" y="668" width="2" height="1"/><rect x="78" y="661" width="3" height="6"/><rect x="81" y="664" width="3" height="6"/><rect x="86" y="660" width="1" height="4"/><rect x="86" y="655" width="2" height="1"/><rect x="88" y="652" width="2" height="1"/><rect x="91" y="649" width="2" height="1"/><rect x="93" y="647" width="2" height="1"/><rect x="95" y="637" width="1" height="10"/><rect x="94" y="637" width="3" height="4"/><rect x="97" y="636" width="1" height="7"/><rect x="96" y="636" width="3" height="4"/><rect x="100" y="637" width="1" height="7"/><rect x="100" y="633" width="3" height="7"/><rect x="103" y="634" width="3" height="4"/><rect x="105" y="636" width="1" height="7"/><rect x="107" y="634" width="1" height="5"/><rect x="106" y="634" width="3" height="2"/><rect x="108" y="633" width="2" height="1"/><rect x="110" y="628" width="2" height="1"/><rect x="112" y="623" width="2" height="1"/><rect x="114" y="618" width="2" height="1"/><rect x="116" y="613" width="2" height="1"/><rect x="118" y="608" width="2" height="1"/><rect x="120" y="603" width="2" height="1"/><rect x="122" y="598" width="2" height="1"/><rect x="124" y="593" width="2" height="1"/><rect x="126" y="588" width="2" height="1"/><rect x="129" y="581" width="1" height="8"/><rect x="131" y="578" width="1" height="9"/><rect x="132" y="576" width="1" height="10"/><rect x="131" y="576" width="3" height="5"/><rect x="134" y="574" width="2" height="1"/><rect x="136" y="570" width="2" height="1"/><rect x="138" y="560" width="2" height="1"/><rect x="140" y="555" width="2" height="1"/><rect x="142" y="545" width="3" height="8"/><rect x="146" y="530" width="3" height="13"/><rect x="154" y="532" width="1" height="6"/><rect x="150" y="537" width="2" height="1"/><rect x="154" y="526" width="2" height="1"/><rect x="157" y="515" width="2" height="1"/><rect x="159" y="508" width="2" height="1"/><rect x="161" y="436" width="1" height="23"/><rect x="160" y="436" width="3" height="12"/><rect x="162" y="437" width="2" height="1"/><rect x="164" y="426" width="2" height="1"/><rect x="166" y="414" width="2" height="1"/><rect x="169" y="394" width="1" height="8"/><rect x="171" y="382" width="1" height="26"/><rect x="170" y="382" width="3" height="14"/><rect x="174" y="397" width="1" height="16"/><rect x="175" y="398" width="3" height="23"/><rect x="177" y="401" width="3" height="16"/><rect x="179" y="409" width="3" height="16"/><rect x="181" y="417" width="3" height="14"/><rect x="184" y="429" width="1" height="12"/><rect x="186" y="441" width="1" height="11"/><rect x="185" y="447" width="3" height="5"/><rect x="188" y="433" width="1" height="35"/><rect x="187" y="448" width="3" height="20"/><rect x="190" y="448" width="1" height="16"/><rect x="192" y="437" width="1" height="11"/><rect x="193" y="426" width="2" height="1"/><rect x="196" y="406" width="3" height="19"/><rect x="197" y="402" width="3" height="21"/><rect x="200" y="432" width="2" height="1"/><rect x="202" y="433" width="1" height="11"/><rect x="204" y="429" width="1" height="25"/><rect x="203" y="433" width="3" height="21"/><rect x="208" y="417" width="1" height="24"/><rect x="208" y="413" width="2" height="1"/><rect x="211" y="394" width="2" height="1"/><rect x="213" y="380" width="2" height="1"/><rect x="235" y="391" width="2" height="1"/><rect x="237" y="392" width="3" height="9"/><rect x="241" y="386" width="1" height="16"/><rect x="240" y="386" width="3" height="12"/><rect x="243" y="385" width="1" height="17"/><rect x="251" y="383" width="3" height="20"/><rect x="254" y="396" width="1" height="19"/><rect x="253" y="396" width="3" height="9"/><rect x="256" y="397" width="3" height="5"/><rect x="258" y="390" width="2" height="1"/><rect x="268" y="300" width="2" height="1"/><rect x="270" y="284" width="2" height="1"/><rect x="272" y="268" width="2" height="1"/><rect x="274" y="251" width="2" height="1"/><rect x="279" y="205" width="1" height="25"/><rect x="278" y="205" width="3" height="21"/><rect x="281" y="225" width="1" height="12"/><rect x="282" y="252" width="2" height="1"/><rect x="285" y="259" width="2" height="1"/><rect x="287" y="255" width="1" height="25"/><rect x="286" y="267" width="3" height="13"/><rect x="288" y="257" width="3" height="10"/><rect x="290" y="240" width="3" height="16"/><rect x="293" y="261" width="2" height="1"/><rect x="294" y="278" width="2" height="1"/><rect x="298" y="272" width="1" height="19"/><rect x="300" y="275" width="1" height="12"/><rect x="309" y="296" width="2" height="1"/><rect x="311" y="290" width="2" height="1"/><rect x="313" y="266" width="2" height="1"/><rect x="315" y="249" width="2" height="1"/><rect x="319" y="221" width="3" height="35"/><rect x="317" y="238" width="2" height="1"/><rect x="322" y="256" width="2" height="1"/><rect x="325" y="239" width="3" height="51"/><rect x="327" y="268" width="3" height="24"/><rect x="330" y="269" width="3" height="27"/><rect x="332" y="253" width="1" height="2"/><rect x="334" y="223" width="3" height="32"/><rect x="338" y="261" width="3" height="13"/><rect x="342" y="255" width="1" height="30"/><rect x="341" y="255" width="3" height="10"/><rect x="344" y="245" width="1" height="6"/><rect x="344" y="228" width="2" height="1"/><rect x="346" y="211" width="2" height="1"/><rect x="348" y="193" width="2" height="1"/><rect x="350" y="162" width="3" height="19"/><rect x="352" y="176" width="3" height="16"/><rect x="351" y="192" width="1" height="33"/><rect x="355" y="197" width="1" height="11"/><rect x="354" y="206" width="3" height="3"/><rect x="356" y="214" width="3" height="12"/><rect x="358" y="207" width="3" height="36"/><rect x="361" y="190" width="1" height="37"/><rect x="363" y="211" width="3" height="36"/><rect x="365" y="196" width="3" height="38"/><rect x="368" y="211" width="3" height="30"/><rect x="371" y="240" width="1" height="12"/><rect x="372" y="226" width="1" height="34"/><rect x="371" y="226" width="3" height="16"/><rect x="374" y="214" width="1" height="25"/><rect x="375" y="200" width="3" height="37"/><rect x="379" y="237" width="1" height="10"/><rect x="380" y="227" width="3" height="30"/><rect x="381" y="225" width="3" height="32"/><rect x="383" y="251" width="3" height="6"/><rect x="385" y="255" width="3" height="29"/><rect x="387" y="242" width="3" height="19"/><rect x="389" y="228" width="3" height="33"/><rect x="391" y="242" width="3" height="21"/><rect x="393" y="255" width="3" height="11"/><rect x="396" y="271" width="1" height="8"/><rect x="395" y="278" width="3" height="3"/><rect x="398" y="284" width="1" height="8"/><rect x="397" y="292" width="3" height="5"/><rect x="401" y="296" width="1" height="31"/><rect x="403" y="301" width="1" height="30"/><rect x="402" y="331" width="3" height="5"/><rect x="405" y="308" width="1" height="9"/><rect x="404" y="314" width="3" height="7"/><rect x="403" y="321" width="3" height="10"/><rect x="398" y="311" width="2" height="1"/><rect x="408" y="310" width="2" height="1"/><rect x="410" y="304" width="2" height="1"/><rect x="412" y="292" width="2" height="1"/><rect x="414" y="287" width="2" height="1"/><rect x="416" y="273" width="2" height="1"/><rect x="418" y="257" width="3" height="7"/><rect x="420" y="264" width="3" height="19"/><rect x="420" y="272" width="3" height="18"/><rect x="423" y="267" width="1" height="32"/><rect x="422" y="284" width="3" height="15"/><rect x="425" y="270" width="3" height="21"/><rect x="426" y="273" width="3" height="23"/><rect x="428" y="296" width="3" height="10"/><rect x="430" y="277" width="3" height="19"/><rect x="432" y="272" width="3" height="24"/><rect x="434" y="277" width="3" height="29"/><rect x="435" y="294" width="3" height="21"/><rect x="439" y="311" width="3" height="30"/><rect x="441" y="253" width="2" height="1"/><rect x="443" y="269" width="2" height="1"/><rect x="445" y="276" width="4" height="1"/><rect x="452" y="277" width="6" height="1"/><rect x="458" y="279" width="4" height="1"/><rect x="464" y="283" width="6" height="1"/><rect x="472" y="285" width="6" height="1"/><rect x="481" y="281" width="6" height="1"/><rect x="489" y="282" width="5" height="1"/><rect x="495" y="282" width="5" height="1"/><rect x="504" y="282" width="4" height="1"/><rect x="509" y="283" width="4" height="1"/><rect x="516" y="283" width="11" height="1"/><rect x="528" y="285" width="6" height="1"/><rect x="536" y="290" width="2" height="1"/><rect x="542" y="290" width="8" height="1"/><rect x="555" y="290" width="6" height="1"/><rect x="563" y="290" width="4" height="1"/><rect x="569" y="291" width="6" height="1"/><rect x="578" y="292" width="4" height="1"/><rect x="583" y="292" width="9" height="1"/><rect x="595" y="292" width="4" height="1"/><rect x="600" y="295" width="6" height="1"/><rect x="449" y="287" width="2" height="1"/><rect x="458" y="288" width="2" height="1"/><rect x="462" y="290" width="2" height="1"/><rect x="470" y="295" width="2" height="1"/><rect x="478" y="296" width="2" height="1"/><rect x="486" y="292" width="2" height="1"/><rect x="493" y="294" width="2" height="1"/><rect x="501" y="294" width="2" height="1"/><rect x="507" y="294" width="2" height="1"/><rect x="514" y="295" width="2" height="1"/><rect x="522" y="295" width="2" height="1"/><rect x="526" y="295" width="2" height="1"/><rect x="534" y="295" width="2" height="1"/><rect x="538" y="300" width="4" height="1"/><rect x="551" y="300" width="6" height="1"/><rect x="561" y="301" width="2" height="1"/><rect x="567" y="301" width="2" height="1"/><rect x="575" y="302" width="2" height="1"/><rect x="581" y="304" width="2" height="1"/><rect x="592" y="304" width="2" height="1"/><rect x="599" y="304" width="2" height="1"/><rect x="606" y="307" width="2" height="1"/><rect x="611" y="420" width="1" height="24"/><rect x="608" y="433" width="2" height="1"/><rect x="610" y="444" width="2" height="1"/><rect x="614" y="430" width="3" height="23"/><rect x="616" y="427" width="3" height="14"/><rect x="618" y="433" width="3" height="11"/><rect x="619" y="450" width="3" height="4"/><rect x="621" y="438" width="1" height="14"/><rect x="623" y="430" width="3" height="21"/><rect x="625" y="442" width="3" height="9"/><rect x="628" y="451" width="1" height="11"/><rect x="630" y="460" width="3" height="11"/><rect x="634" y="451" width="3" height="20"/><rect x="636" y="466" width="3" height="8"/><rect x="638" y="472" width="3" height="7"/><rect x="640" y="472" width="3" height="18"/><rect x="642" y="495" width="2" height="1"/><rect x="647" y="497" width="1" height="14"/><rect x="649" y="504" width="1" height="14"/><rect x="648" y="514" width="3" height="4"/><rect x="651" y="515" width="1" height="8"/><rect x="650" y="515" width="3" height="3"/><rect x="652" y="508" width="3" height="11"/><rect x="653" y="508" width="3" height="10"/><rect x="656" y="521" width="1" height="6"/><rect x="657" y="517" width="1" height="15"/><rect x="656" y="527" width="3" height="3"/><rect x="659" y="529" width="3" height="7"/><rect x="662" y="531" width="1" height="8"/><rect x="661" y="541" width="3" height="4"/><rect x="664" y="539" width="1" height="13"/><rect x="663" y="552" width="2" height="1"/><rect x="665" y="558" width="1" height="5"/><rect x="664" y="558" width="3" height="4"/><rect x="667" y="562" width="1" height="6"/><rect x="666" y="562" width="3" height="4"/><rect x="669" y="564" width="1" height="6"/><rect x="668" y="566" width="3" height="4"/><rect x="673" y="579" width="2" height="1"/><rect x="677" y="578" width="1" height="9"/><rect x="676" y="579" width="3" height="8"/><rect x="679" y="587" width="1" height="7"/><rect x="678" y="587" width="3" height="6"/><rect x="681" y="589" width="1" height="9"/><rect x="680" y="590" width="3" height="6"/><rect x="683" y="591" width="1" height="9"/><rect x="682" y="591" width="3" height="6"/><rect x="685" y="590" width="1" height="11"/><rect x="684" y="592" width="3" height="6"/><rect x="687" y="598" width="1" height="7"/><rect x="686" y="599" width="3" height="5"/><rect x="689" y="602" width="1" height="6"/><rect x="688" y="603" width="3" height="5"/><rect x="691" y="606" width="1" height="6"/><rect x="690" y="608" width="3" height="3"/><rect x="693" y="607" width="1" height="7"/><rect x="692" y="609" width="3" height="4"/><rect x="695" y="603" width="1" height="8"/><rect x="694" y="605" width="3" height="5"/><rect x="697" y="598" width="1" height="12"/><rect x="696" y="599" width="3" height="10"/><rect x="699" y="593" width="1" height="13"/><rect x="698" y="597" width="3" height="9"/><rect x="701" y="593" width="1" height="12"/><rect x="700" y="593" width="3" height="8"/><rect x="703" y="593" width="1" height="9"/><rect x="702" y="597" width="3" height="4"/><rect x="705" y="592" width="1" height="11"/><rect x="704" y="592" width="3" height="9"/><rect x="707" y="592" width="1" height="14"/><rect x="706" y="594" width="3" height="11"/><rect x="709" y="595" width="1" height="10"/><rect x="708" y="596" width="3" height="9"/><rect x="711" y="595" width="1" height="9"/><rect x="710" y="598" width="3" height="4"/><rect x="713" y="596" width="1" height="8"/><rect x="712" y="598" width="3" height="4"/><rect x="715" y="597" width="1" height="12"/><rect x="714" y="600" width="3" height="7"/><rect x="717" y="596" width="1" height="12"/><rect x="716" y="598" width="3" height="10"/><rect x="719" y="600" width="1" height="9"/><rect x="718" y="603" width="3" height="4"/><rect x="721" y="601" width="1" height="8"/><rect x="720" y="603" width="3" height="3"/><rect x="723" y="603" width="1" height="6"/><rect x="722" y="605" width="3" height="2"/><rect x="725" y="608" width="1" height="8"/><rect x="724" y="610" width="3" height="3"/><rect x="727" y="612" width="1" height="7"/><rect x="726" y="614" width="3" height="5"/><rect x="729" y="614" width="1" height="8"/><rect x="728" y="616" width="3" height="3"/><rect x="731" y="611" width="1" height="8"/><rect x="730" y="615" width="3" height="3"/><rect x="733" y="603" width="1" height="10"/><rect x="732" y="607" width="3" height="3"/><rect x="735" y="600" width="1" height="12"/><rect x="734" y="603" width="3" height="5"/><rect x="737" y="600" width="1" height="11"/><rect x="736" y="601" width="3" height="8"/><rect x="739" y="600" width="1" height="14"/><rect x="738" y="603" width="3" height="11"/><rect x="741" y="605" width="1" height="9"/><rect x="740" y="607" width="3" height="5"/><rect x="743" y="606" width="1" height="9"/><rect x="742" y="609" width="3" height="4"/><rect x="745" y="608" width="1" height="12"/><rect x="744" y="609" width="3" height="10"/><rect x="747" y="612" width="1" height="7"/><rect x="746" y="613" width="3" height="3"/><rect x="749" y="615" width="1" height="9"/><rect x="748" y="618" width="3" height="5"/><rect x="751" y="617" width="1" height="8"/><rect x="750" y="618" width="3" height="6"/><rect x="753" y="620" width="1" height="6"/><rect x="752" y="620" width="3" height="5"/><rect x="755" y="620" width="1" height="9"/><rect x="754" y="624" width="3" height="4"/><rect x="757" y="621" width="1" height="7"/><rect x="756" y="624" width="3" height="3"/><rect x="759" y="623" width="1" height="7"/><rect x="758" y="624" width="3" height="6"/><rect x="761" y="624" width="1" height="6"/><rect x="760" y="628" width="3" height="2"/><rect x="763" y="618" width="1" height="14"/><rect x="762" y="623" width="3" height="8"/><rect x="765" y="617" width="1" height="10"/><rect x="764" y="618" width="3" height="5"/><rect x="767" y="618" width="1" height="11"/><rect x="766" y="624" width="3" height="4"/><rect x="769" y="620" width="1" height="12"/><rect x="768" y="621" width="3" height="9"/><rect x="771" y="621" width="1" height="12"/><rect x="770" y="622" width="3" height="7"/><rect x="773" y="622" width="1" height="9"/><rect x="772" y="623" width="3" height="6"/><rect x="775" y="622" width="1" height="12"/><rect x="774" y="625" width="3" height="6"/><rect x="777" y="624" width="1" height="9"/><rect x="776" y="625" width="3" height="6"/><rect x="779" y="623" width="1" height="11"/><rect x="778" y="626" width="3" height="7"/><rect x="781" y="619" width="1" height="10"/><rect x="780" y="621" width="3" height="6"/><rect x="783" y="616" width="1" height="8"/><rect x="782" y="619" width="3" height="5"/><rect x="785" y="617" width="1" height="10"/><rect x="784" y="620" width="3" height="5"/><rect x="787" y="620" width="1" height="7"/><rect x="786" y="622" width="3" height="3"/><rect x="789" y="620" width="1" height="7"/><rect x="788" y="622" width="3" height="5"/><rect x="791" y="619" width="1" height="11"/><rect x="790" y="620" width="3" height="7"/><rect x="793" y="623" width="1" height="9"/><rect x="792" y="624" width="3" height="7"/><rect x="795" y="623" width="1" height="14"/><rect x="794" y="627" width="3" height="5"/><rect x="797" y="627" width="1" height="8"/><rect x="796" y="630" width="3" height="4"/><rect x="799" y="629" width="1" height="8"/><rect x="798" y="631" width="3" height="3"/><rect x="801" y="631" width="1" height="7"/><rect x="800" y="632" width="3" height="5"/><rect x="803" y="631" width="1" height="8"/><rect x="802" y="635" width="3" height="2"/><rect x="805" y="631" width="1" height="9"/><rect x="804" y="633" width="3" height="7"/><rect x="807" y="631" width="1" height="12"/><rect x="806" y="634" width="3" height="8"/><rect x="809" y="632" width="1" height="12"/><rect x="808" y="633" width="3" height="6"/><rect x="811" y="637" width="1" height="13"/><rect x="810" y="644" width="3" height="5"/><rect x="813" y="638" width="1" height="11"/><rect x="812" y="641" width="3" height="6"/><rect x="815" y="636" width="1" height="9"/><rect x="814" y="637" width="3" height="5"/><rect x="817" y="633" width="1" height="7"/><rect x="816" y="635" width="3" height="2"/><rect x="819" y="631" width="1" height="6"/><rect x="818" y="632" width="3" height="3"/><rect x="821" y="627" width="1" height="6"/><rect x="820" y="629" width="3" height="2"/><rect x="823" y="621" width="1" height="9"/><rect x="822" y="621" width="3" height="7"/><rect x="825" y="617" width="1" height="9"/><rect x="824" y="618" width="3" height="7"/><rect x="827" y="612" width="1" height="13"/><rect x="826" y="617" width="3" height="6"/><rect x="829" y="610" width="1" height="8"/><rect x="828" y="611" width="3" height="4"/><rect x="831" y="613" width="1" height="5"/><rect x="830" y="614" width="3" height="2"/><rect x="832" y="620" width="2" height="1"/><rect x="835" y="609" width="1" height="18"/><rect x="834" y="611" width="3" height="12"/><rect x="837" y="610" width="1" height="13"/><rect x="836" y="613" width="3" height="5"/><rect x="839" y="610" width="1" height="15"/><rect x="838" y="612" width="3" height="9"/><rect x="841" y="611" width="1" height="10"/><rect x="840" y="614" width="3" height="3"/><rect x="843" y="612" width="1" height="9"/><rect x="842" y="612" width="3" height="5"/><rect x="845" y="610" width="1" height="10"/><rect x="844" y="611" width="3" height="3"/><rect x="847" y="610" width="1" height="11"/><rect x="846" y="613" width="3" height="6"/><rect x="849" y="612" width="1" height="11"/><rect x="848" y="614" width="3" height="6"/><rect x="851" y="612" width="1" height="10"/><rect x="850" y="613" width="3" height="6"/><rect x="853" y="613" width="1" height="11"/><rect x="852" y="615" width="3" height="8"/><rect x="856" y="608" width="3" height="3"/><rect x="860" y="604" width="1" height="4"/><rect x="861" y="602" width="1" height="3"/><rect x="863" y="598" width="3" height="4"/><rect x="864" y="587" width="1" height="6"/><rect x="863" y="588" width="3" height="5"/><rect x="866" y="586" width="1" height="10"/><rect x="865" y="588" width="3" height="7"/><rect x="868" y="586" width="1" height="7"/><rect x="867" y="587" width="3" height="3"/><rect x="870" y="584" width="1" height="12"/><rect x="869" y="587" width="3" height="7"/><rect x="872" y="581" width="1" height="14"/><rect x="871" y="583" width="3" height="10"/><rect x="874" y="586" width="1" height="9"/><rect x="873" y="587" width="3" height="6"/><rect x="876" y="583" width="1" height="14"/><rect x="875" y="589" width="3" height="5"/><rect x="878" y="588" width="1" height="9"/><rect x="877" y="591" width="3" height="5"/><rect x="880" y="594" width="1" height="5"/><rect x="879" y="595" width="3" height="2"/><rect x="882" y="590" width="1" height="5"/><rect x="881" y="590" width="3" height="3"/><rect x="884" y="585" width="1" height="8"/><rect x="883" y="587" width="3" height="5"/><rect x="886" y="584" width="1" height="6"/><rect x="885" y="584" width="3" height="4"/><rect x="888" y="581" width="1" height="13"/><rect x="887" y="582" width="3" height="10"/><rect x="890" y="588" width="1" height="8"/><rect x="889" y="589" width="3" height="4"/><rect x="892" y="587" width="1" height="8"/><rect x="891" y="587" width="3" height="6"/><rect x="894" y="579" width="1" height="3"/><rect x="895" y="574" width="2" height="1"/><rect x="898" y="572" width="1" height="6"/><rect x="897" y="572" width="3" height="6"/><rect x="900" y="577" width="1" height="10"/><rect x="899" y="578" width="3" height="8"/><rect x="902" y="578" width="1" height="10"/><rect x="901" y="579" width="3" height="7"/><rect x="904" y="577" width="1" height="12"/><rect x="903" y="577" width="3" height="11"/><rect x="906" y="581" width="1" height="11"/><rect x="905" y="582" width="3" height="10"/><rect x="909" y="581" width="3" height="8"/><rect x="912" y="569" width="3" height="11"/><rect x="911" y="575" width="2" height="1"/><rect x="915" y="563" width="2" height="1"/><rect x="917" y="557" width="2" height="1"/><rect x="919" y="549" width="2" height="1"/><rect x="924" y="533" width="1" height="17"/><rect x="923" y="533" width="3" height="16"/><rect x="921" y="541" width="2" height="1"/><rect x="926" y="542" width="1" height="8"/><rect x="925" y="545" width="3" height="4"/><rect x="928" y="545" width="1" height="9"/><rect x="927" y="546" width="3" height="4"/><rect x="930" y="550" width="1" height="5"/><rect x="929" y="551" width="3" height="3"/><rect x="932" y="555" width="3" height="13"/><rect x="937" y="544" width="1" height="10"/><rect x="936" y="547" width="3" height="7"/><rect x="939" y="543" width="1" height="12"/><rect x="938" y="544" width="3" height="10"/><rect x="941" y="543" width="1" height="9"/><rect x="940" y="544" width="3" height="7"/><rect x="943" y="542" width="1" height="9"/><rect x="942" y="545" width="3" height="5"/><rect x="945" y="544" width="1" height="7"/><rect x="944" y="546" width="3" height="4"/><rect x="947" y="545" width="1" height="7"/><rect x="946" y="546" width="3" height="5"/><rect x="949" y="542" width="1" height="9"/><rect x="948" y="545" width="3" height="5"/><rect x="951" y="541" width="1" height="11"/><rect x="950" y="541" width="3" height="10"/><rect x="953" y="546" width="1" height="7"/><rect x="952" y="546" width="3" height="5"/><rect x="955" y="547" width="1" height="10"/><rect x="954" y="548" width="3" height="9"/><rect x="957" y="554" width="1" height="7"/><rect x="956" y="555" width="3" height="4"/><rect x="959" y="557" width="1" height="6"/><rect x="958" y="558" width="3" height="4"/><rect x="961" y="557" width="1" height="8"/><rect x="960" y="558" width="3" height="5"/><rect x="963" y="560" width="1" height="13"/><rect x="962" y="561" width="3" height="12"/><rect x="965" y="561" width="1" height="14"/><rect x="964" y="562" width="3" height="12"/><rect x="967" y="564" width="1" height="12"/><rect x="966" y="565" width="3" height="10"/><rect x="969" y="571" width="1" height="8"/><rect x="968" y="572" width="3" height="4"/><rect x="971" y="563" width="1" height="15"/><rect x="970" y="565" width="3" height="12"/><rect x="973" y="575" width="1" height="5"/><rect x="972" y="577" width="3" height="3"/><rect x="977" y="572" width="3" height="12"/><rect x="980" y="570" width="1" height="10"/><rect x="979" y="571" width="3" height="4"/><rect x="982" y="567" width="1" height="10"/><rect x="981" y="568" width="3" height="3"/><rect x="984" y="566" width="1" height="8"/><rect x="983" y="568" width="3" height="4"/><rect x="986" y="563" width="1" height="13"/><rect x="985" y="564" width="3" height="12"/><rect x="988" y="567" width="1" height="11"/><rect x="987" y="572" width="3" height="5"/><rect x="990" y="576" width="1" height="3"/><rect x="989" y="577" width="3" height="2"/><rect x="992" y="576" width="1" height="7"/><rect x="991" y="576" width="3" height="6"/><rect x="994" y="576" width="1" height="10"/><rect x="993" y="577" width="3" height="6"/><rect x="996" y="578" width="1" height="10"/><rect x="995" y="583" width="3" height="4"/><rect x="998" y="576" width="3" height="14"/><rect x="1000" y="573" width="2" height="1"/><rect x="1002" y="569" width="2" height="1"/><rect x="1004" y="568" width="2" height="1"/><rect x="1006" y="567" width="2" height="1"/><rect x="1008" y="566" width="2" height="1"/><rect x="1010" y="565" width="2" height="1"/><rect x="1012" y="564" width="2" height="1"/><rect x="1014" y="562" width="2" height="1"/><rect x="1016" y="561" width="2" height="1"/><rect x="1018" y="560" width="2" height="1"/><rect x="1019" y="560" width="2" height="1"/><rect x="1020" y="559" width="2" height="1"/><rect x="1022" y="559" width="2" height="1"/><rect x="1023" y="551" width="2" height="1"/><rect x="1025" y="550" width="2" height="1"/><rect x="1027" y="550" width="2" height="1"/><rect x="1029" y="549" width="2" height="1"/><rect x="1031" y="546" width="2" height="1"/><rect x="1033" y="545" width="2" height="1"/><rect x="1035" y="543" width="2" height="1"/><rect x="1037" y="541" width="2" height="1"/><rect x="1039" y="540" width="2" height="1"/><rect x="1041" y="531" width="2" height="1"/><rect x="1042" y="523" width="2" height="1"/><rect x="1045" y="514" width="2" height="1"/><rect x="1047" y="505" width="2" height="1"/><rect x="1049" y="496" width="2" height="1"/><rect x="1053" y="477" width="3" height="19"/><rect x="1051" y="487" width="2" height="1"/><rect x="1057" y="495" width="7" height="1"/><rect x="1064" y="497" width="3" height="1"/><rect x="1068" y="504" width="2" height="1"/><rect x="1070" y="510" width="3" height="1"/><rect x="1073" y="513" width="3" height="1"/><rect x="1078" y="495" width="3" height="19"/><rect x="1082" y="487" width="2" height="1"/><rect x="1083" y="479" width="2" height="1"/><rect x="1086" y="470" width="2" height="1"/><rect x="1088" y="467" width="2" height="1"/><rect x="1090" y="464" width="2" height="1"/><rect x="1093" y="456" width="3" height="15"/><rect x="1096" y="463" width="1" height="11"/><rect x="1095" y="466" width="3" height="7"/><rect x="1098" y="464" width="1" height="13"/><rect x="1097" y="466" width="3" height="7"/><rect x="1100" y="464" width="1" height="16"/><rect x="1099" y="467" width="3" height="9"/><rect x="1102" y="472" width="1" height="11"/><rect x="1101" y="473" width="3" height="5"/><rect x="1104" y="471" width="1" height="14"/><rect x="1103" y="473" width="3" height="12"/><rect x="1106" y="470" width="1" height="13"/><rect x="1105" y="471" width="3" height="12"/><rect x="1108" y="472" width="1" height="13"/><rect x="1107" y="474" width="3" height="8"/><rect x="1111" y="491" width="3" height="13"/><rect x="1114" y="491" width="1" height="5"/><rect x="1115" y="484" width="2" height="1"/><rect x="1117" y="473" width="1" height="8"/><rect x="1116" y="475" width="3" height="6"/><rect x="1119" y="472" width="1" height="14"/><rect x="1118" y="476" width="3" height="9"/><rect x="1121" y="472" width="1" height="15"/><rect x="1120" y="474" width="3" height="10"/><rect x="1123" y="474" width="1" height="15"/><rect x="1122" y="474" width="3" height="14"/><rect x="1125" y="478" width="1" height="15"/><rect x="1124" y="479" width="3" height="8"/><rect x="1127" y="483" width="1" height="11"/><rect x="1126" y="485" width="3" height="9"/><rect x="1129" y="485" width="1" height="19"/><rect x="1128" y="486" width="3" height="15"/><rect x="1131" y="496" width="1" height="12"/><rect x="1130" y="500" width="3" height="6"/><rect x="1133" y="504" width="3" height="10"/><rect x="1136" y="498" width="1" height="11"/><rect x="1135" y="500" width="3" height="3"/><rect x="1138" y="497" width="1" height="10"/><rect x="1137" y="498" width="3" height="5"/><rect x="1140" y="494" width="3" height="6"/><rect x="1143" y="487" width="1" height="8"/><rect x="1142" y="487" width="2" height="1"/><rect x="1143" y="482" width="2" height="1"/><rect x="1145" y="480" width="2" height="1"/><rect x="1147" y="477" width="2" height="1"/><rect x="1149" y="475" width="2" height="1"/><rect x="1151" y="473" width="2" height="1"/><rect x="1154" y="467" width="1" height="11"/><rect x="1153" y="463" width="3" height="5"/><rect x="1156" y="454" width="3" height="7"/><rect x="1157" y="445" width="3" height="6"/><rect x="1160" y="454" width="3" height="5"/><rect x="1163" y="449" width="3" height="7"/><rect x="1165" y="435" width="1" height="12"/><rect x="1164" y="439" width="3" height="7"/><rect x="1167" y="432" width="1" height="14"/><rect x="1166" y="433" width="3" height="11"/><rect x="1169" y="427" width="1" height="17"/><rect x="1168" y="429" width="3" height="9"/><rect x="1171" y="432" width="1" height="12"/><rect x="1170" y="435" width="3" height="6"/><rect x="1173" y="435" width="1" height="14"/><rect x="1172" y="435" width="3" height="13"/><rect x="1175" y="437" width="1" height="12"/><rect x="1174" y="438" width="3" height="10"/><rect x="1179" y="450" width="1" height="14"/><rect x="1178" y="452" width="3" height="11"/><rect x="1181" y="455" width="1" height="11"/><rect x="1180" y="455" width="3" height="10"/><rect x="1183" y="457" width="1" height="14"/><rect x="1182" y="458" width="3" height="9"/><rect x="1185" y="460" width="1" height="17"/><rect x="1184" y="462" width="3" height="13"/><rect x="1187" y="465" width="3" height="16"/><rect x="1190" y="456" width="1" height="11"/><rect x="1189" y="459" width="3" height="6"/><rect x="1192" y="453" width="1" height="8"/><rect x="1191" y="455" width="3" height="6"/><rect x="1194" y="447" width="3" height="6"/><rect x="1197" y="439" width="1" height="7"/><rect x="1196" y="440" width="3" height="4"/><rect x="1199" y="440" width="1" height="14"/><rect x="1198" y="440" width="3" height="13"/><rect x="1201" y="438" width="1" height="14"/><rect x="1200" y="440" width="3" height="12"/><rect x="1203" y="438" width="1" height="15"/><rect x="1202" y="440" width="3" height="9"/><rect x="1205" y="440" width="1" height="12"/><rect x="1204" y="442" width="3" height="9"/><rect x="1207" y="442" width="1" height="13"/><rect x="1206" y="443" width="3" height="10"/><rect x="1209" y="445" width="1" height="14"/><rect x="1208" y="446" width="3" height="10"/><rect x="1211" y="453" width="3" height="13"/><rect x="1215" y="450" width="1" height="7"/><rect x="1216" y="442" width="3" height="6"/><rect x="1218" y="437" width="3" height="8"/><rect x="1221" y="423" width="1" height="15"/><rect x="1220" y="423" width="3" height="13"/><rect x="1224" y="433" width="1" height="19"/><rect x="1223" y="436" width="3" height="16"/><rect x="1226" y="425" width="1" height="12"/><rect x="1225" y="427" width="3" height="7"/><rect x="1228" y="424" width="1" height="10"/><rect x="1227" y="426" width="3" height="6"/><rect x="1229" y="416" width="3" height="6"/><rect x="1232" y="406" width="1" height="9"/><rect x="1231" y="406" width="2" height="1"/><rect x="1232" y="396" width="2" height="1"/><rect x="1235" y="386" width="2" height="1"/><rect x="1236" y="374" width="2" height="1"/><rect x="1240" y="361" width="1" height="27"/><rect x="1238" y="361" width="3" height="6"/><rect x="1240" y="352" width="3" height="28"/><rect x="1243" y="357" width="2" height="1"/><rect x="1244" y="343" width="2" height="1"/><rect x="1247" y="330" width="2" height="1"/><rect x="1248" y="322" width="2" height="1"/><rect x="1251" y="316" width="2" height="1"/><rect x="1253" y="305" width="2" height="1"/><rect x="1255" y="299" width="2" height="1"/><rect x="1257" y="295" width="2" height="1"/><rect x="1259" y="282" width="2" height="1"/><rect x="1262" y="265" width="2" height="1"/><rect x="1264" y="259" width="2" height="1"/><rect x="1267" y="250" width="2" height="1"/><rect x="1269" y="248" width="2" height="1"/><rect x="1271" y="244" width="2" height="1"/><rect x="1274" y="236" width="2" height="1"/><rect x="1276" y="222" width="3" height="35"/><rect x="1280" y="255" width="2" height="1"/><rect x="1284" y="256" width="3" height="21"/><rect x="1285" y="255" width="3" height="23"/><rect x="1288" y="254" width="3" height="23"/><rect x="1288" y="275" width="3" height="8"/><rect x="1290" y="257" width="3" height="20"/><rect x="1293" y="259" width="1" height="18"/><rect x="1294" y="264" width="3" height="21"/><rect x="1296" y="253" width="3" height="16"/><rect x="1299" y="236" width="3" height="18"/><rect x="1282" y="272" width="2" height="1"/><rect x="297" y="273" width="1" height="16"/><rect x="298" y="283" width="3" height="24"/><rect x="300" y="298" width="3" height="24"/><rect x="303" y="307" width="3" height="24"/><rect x="305" y="319" width="3" height="18"/><rect x="305" y="337" width="3" height="8"/><rect x="308" y="310" width="3" height="6"/><rect x="218" y="337" width="2" height="1"/><rect x="223" y="331" width="1" height="28"/><rect x="222" y="331" width="3" height="25"/><rect x="230" y="330" width="1" height="28"/><rect x="216" y="354" width="2" height="1"/><rect x="214" y="367" width="2" height="1"/><rect x="212" y="380" width="2" height="1"/><rect x="210" y="393" width="2" height="1"/><rect x="231" y="358" width="1" height="22"/><rect x="234" y="380" width="2" height="1"/><rect x="245" y="359" width="3" height="23"/><rect x="258" y="390" width="2" height="1"/><rect x="260" y="378" width="2" height="1"/><rect x="261" y="362" width="2" height="1"/><rect x="264" y="349" width="1" height="24"/><rect x="262" y="349" width="2" height="1"/><rect x="266" y="337" width="1" height="7"/><rect x="268" y="323" width="1" height="14"/></g>
<g shape-rendering="crispEdges" fill="#fff"><rect x="4" y="692" width="1" height="5"/><rect x="6" y="686" width="1" height="4"/><rect x="8" y="669" width="1" height="12"/><rect x="10" y="618" width="1" height="21"/><rect x="14" y="642" width="1" height="35"/><rect x="56" y="679" width="1" height="2"/><rect x="68" y="673" width="1" height="4"/><rect x="82" y="665" width="1" height="4"/><rect x="132" y="577" width="1" height="3"/><rect x="143" y="546" width="1" height="6"/><rect x="161" y="437" width="1" height="10"/><rect x="176" y="399" width="1" height="21"/><rect x="188" y="449" width="1" height="18"/><rect x="204" y="434" width="1" height="19"/><rect x="238" y="393" width="1" height="7"/><rect x="257" y="398" width="1" height="3"/><rect x="287" y="268" width="1" height="11"/><rect x="289" y="258" width="1" height="8"/><rect x="331" y="270" width="1" height="25"/><rect x="339" y="262" width="1" height="11"/><rect x="342" y="256" width="1" height="8"/><rect x="357" y="215" width="1" height="10"/><rect x="364" y="212" width="1" height="34"/><rect x="372" y="227" width="1" height="14"/><rect x="386" y="256" width="1" height="27"/><rect x="388" y="243" width="1" height="17"/><rect x="403" y="332" width="1" height="3"/><rect x="404" y="322" width="1" height="8"/><rect x="421" y="265" width="1" height="17"/><rect x="423" y="285" width="1" height="13"/><rect x="429" y="297" width="1" height="8"/><rect x="440" y="312" width="1" height="28"/><rect x="615" y="431" width="1" height="21"/><rect x="620" y="451" width="1" height="2"/><rect x="631" y="461" width="1" height="9"/><rect x="639" y="473" width="1" height="5"/><rect x="649" y="515" width="1" height="2"/><rect x="669" y="567" width="1" height="2"/><rect x="679" y="588" width="1" height="4"/><rect x="683" y="592" width="1" height="4"/><rect x="687" y="600" width="1" height="3"/><rect x="689" y="604" width="1" height="3"/><rect x="691" y="609" width="1" height="1"/><rect x="701" y="594" width="1" height="6"/><rect x="703" y="598" width="1" height="2"/><rect x="707" y="595" width="1" height="9"/><rect x="709" y="597" width="1" height="7"/><rect x="719" y="604" width="1" height="2"/><rect x="721" y="604" width="1" height="1"/><rect x="729" y="617" width="1" height="1"/><rect x="735" y="604" width="1" height="3"/><rect x="737" y="602" width="1" height="6"/><rect x="741" y="608" width="1" height="3"/><rect x="777" y="626" width="1" height="4"/><rect x="787" y="623" width="1" height="1"/><rect x="797" y="631" width="1" height="2"/><rect x="805" y="634" width="1" height="5"/><rect x="807" y="635" width="1" height="6"/><rect x="811" y="645" width="1" height="3"/><rect x="815" y="638" width="1" height="3"/><rect x="819" y="633" width="1" height="1"/><rect x="829" y="612" width="1" height="2"/><rect x="835" y="612" width="1" height="10"/><rect x="837" y="614" width="1" height="3"/><rect x="841" y="615" width="1" height="1"/><rect x="843" y="613" width="1" height="3"/><rect x="845" y="612" width="1" height="1"/><rect x="847" y="614" width="1" height="4"/><rect x="853" y="616" width="1" height="6"/><rect x="857" y="609" width="1" height="1"/><rect x="864" y="599" width="1" height="2"/><rect x="866" y="589" width="1" height="5"/><rect x="870" y="588" width="1" height="5"/><rect x="874" y="588" width="1" height="4"/><rect x="882" y="591" width="1" height="1"/><rect x="884" y="588" width="1" height="3"/><rect x="890" y="590" width="1" height="2"/><rect x="900" y="579" width="1" height="6"/><rect x="902" y="580" width="1" height="5"/><rect x="910" y="582" width="1" height="6"/><rect x="913" y="570" width="1" height="9"/><rect x="928" y="547" width="1" height="2"/><rect x="930" y="552" width="1" height="1"/><rect x="933" y="556" width="1" height="11"/><rect x="943" y="546" width="1" height="3"/><rect x="951" y="542" width="1" height="8"/><rect x="953" y="547" width="1" height="3"/><rect x="957" y="556" width="1" height="2"/><rect x="963" y="562" width="1" height="10"/><rect x="973" y="578" width="1" height="1"/><rect x="978" y="573" width="1" height="10"/><rect x="980" y="572" width="1" height="2"/><rect x="984" y="569" width="1" height="2"/><rect x="992" y="577" width="1" height="4"/><rect x="999" y="577" width="1" height="12"/><rect x="1079" y="496" width="1" height="17"/><rect x="1106" y="472" width="1" height="10"/><rect x="1112" y="492" width="1" height="11"/><rect x="1117" y="476" width="1" height="4"/><rect x="1125" y="480" width="1" height="6"/><rect x="1134" y="505" width="1" height="8"/><rect x="1136" y="501" width="1" height="1"/><rect x="1138" y="499" width="1" height="3"/><rect x="1141" y="495" width="1" height="4"/><rect x="1157" y="455" width="1" height="5"/><rect x="1161" y="455" width="1" height="3"/><rect x="1164" y="450" width="1" height="5"/><rect x="1173" y="436" width="1" height="11"/><rect x="1188" y="466" width="1" height="14"/><rect x="1195" y="448" width="1" height="4"/><rect x="1201" y="441" width="1" height="10"/><rect x="1203" y="441" width="1" height="7"/><rect x="1209" y="447" width="1" height="8"/><rect x="1212" y="454" width="1" height="11"/><rect x="1217" y="443" width="1" height="4"/><rect x="1219" y="438" width="1" height="6"/><rect x="1224" y="437" width="1" height="14"/><rect x="1230" y="417" width="1" height="4"/><rect x="1241" y="353" width="1" height="26"/><rect x="1285" y="257" width="1" height="19"/><rect x="1289" y="276" width="1" height="6"/><rect x="1295" y="265" width="1" height="19"/><rect x="1297" y="254" width="1" height="14"/><rect x="1300" y="237" width="1" height="16"/><rect x="306" y="338" width="1" height="6"/><rect x="309" y="311" width="1" height="4"/></g>
<line x1="1307.5" y1="239" x2="1323.9" y2="197.6" stroke="#6f8fd6" stroke-width="1.1" stroke-dasharray="5 5.8" fill="none"/>
<line x1="1323.9" y1="197.6" x2="1317.4" y2="200.3" stroke="#6f8fd6" stroke-width="1.1" stroke-dasharray="3.2 1.2"/>
<line x1="1323.9" y1="197.6" x2="1326.8" y2="204.0" stroke="#6f8fd6" stroke-width="1.1" stroke-dasharray="3.2 1.2"/>
<line x1="1323.9" y1="197.6" x2="1406.1" y2="314.8" stroke="#6f8fd6" stroke-width="1.1" stroke-dasharray="5 5.8" fill="none"/>
<line x1="1406.1" y1="314.8" x2="1407.4" y2="307.9" stroke="#6f8fd6" stroke-width="1.1" stroke-dasharray="3.2 1.2"/>
<line x1="1406.1" y1="314.8" x2="1399.2" y2="313.7" stroke="#6f8fd6" stroke-width="1.1" stroke-dasharray="3.2 1.2"/>
<line x1="1406.1" y1="314.8" x2="1477.5" y2="148" stroke="#6f8fd6" stroke-width="1.1" stroke-dasharray="5 5.8" fill="none"/>
<line x1="1477.5" y1="148" x2="1471.0" y2="150.5" stroke="#6f8fd6" stroke-width="1.1" stroke-dasharray="3.2 1.2"/>
<line x1="1477.5" y1="148" x2="1480.2" y2="154.5" stroke="#6f8fd6" stroke-width="1.1" stroke-dasharray="3.2 1.2"/>
<line x1="1477.5" y1="148" x2="1586.9" y2="323.9" stroke="#6f8fd6" stroke-width="1.1" stroke-dasharray="5 5.8" fill="none"/>
<line x1="1586.9" y1="323.9" x2="1588.6" y2="317.1" stroke="#6f8fd6" stroke-width="1.1" stroke-dasharray="3.2 1.2"/>
<line x1="1586.9" y1="323.9" x2="1580.1" y2="322.4" stroke="#6f8fd6" stroke-width="1.1" stroke-dasharray="3.2 1.2"/>
<line x1="1592.5" y1="323" x2="1668.2" y2="110.3" stroke="#6f8fd6" stroke-width="1.1" stroke-dasharray="5 5.8" fill="none"/>
<line x1="1668.2" y1="110.3" x2="1661.8" y2="113.2" stroke="#6f8fd6" stroke-width="1.1" stroke-dasharray="3.2 1.2"/>
<line x1="1668.2" y1="110.3" x2="1671.3" y2="116.6" stroke="#6f8fd6" stroke-width="1.1" stroke-dasharray="3.2 1.2"/>
<text x="1017.5" y="403" text-anchor="start" direction="rtl" font-family="'DejaVu Sans',sans-serif" font-size="19.5" fill="#6aa84f" stroke="#6aa84f" stroke-width="0.5" textLength="322" lengthAdjust="spacingAndGlyphs">انجـــمن خبرگـــــان بورس تـــــهران</text>
<text x="695.5" y="429.7" font-family="'DejaVu Sans','Liberation Sans',sans-serif" font-weight="bold" font-size="23.9" fill="#6aa84f" textLength="326" lengthAdjust="spacingAndGlyphs">AMOOZESH-BOORS.COM</text>
<text x="922.4" y="523.8" text-anchor="middle" font-size="20" fill="#000" font-weight="normal" textLength="25.5" lengthAdjust="spacingAndGlyphs">(1)</text>
<text x="998.4" y="617.1" text-anchor="middle" font-size="20" fill="#000" font-weight="normal" textLength="25.5" lengthAdjust="spacingAndGlyphs">(2)</text>
<text x="1488.3" y="118.8" text-anchor="middle" font-size="20" fill="#000" font-weight="normal" textLength="25.5" lengthAdjust="spacingAndGlyphs">(3)</text>
<text x="1585.3" y="356.8" text-anchor="middle" font-size="20" fill="#000" font-weight="normal" textLength="25.5" lengthAdjust="spacingAndGlyphs">(4)</text>
<text x="1676.3" y="94.4" text-anchor="middle" font-size="20" fill="#000" font-weight="normal" textLength="25.5" lengthAdjust="spacingAndGlyphs">(5)</text>
<text x="1052" y="471.8" text-anchor="middle" font-size="13" fill="#6aa84f" font-weight="normal" textLength="14.6" lengthAdjust="spacingAndGlyphs">(1)</text>
<text x="1139.3" y="529.8" text-anchor="middle" font-size="13" fill="#6aa84f" font-weight="normal" textLength="14.6" lengthAdjust="spacingAndGlyphs">(2)</text>
<text x="1331.3" y="179.3" text-anchor="middle" font-size="13" fill="#6aa84f" font-weight="normal" textLength="14.6" lengthAdjust="spacingAndGlyphs">(3)</text>
<text x="1409.4" y="334.3" text-anchor="middle" font-size="13" fill="#6aa84f" font-weight="normal" textLength="14.6" lengthAdjust="spacingAndGlyphs">(4)</text>
<text x="1481.4" y="139.3" text-anchor="middle" font-size="13" fill="#6aa84f" font-weight="normal" textLength="14.6" lengthAdjust="spacingAndGlyphs">(5)</text>
<text x="1172" y="420.4" text-anchor="middle" font-size="12.3" fill="#be0712" font-weight="normal" textLength="6.0" lengthAdjust="spacingAndGlyphs" stroke="#be0712" stroke-width="0.32">1</text>
<text x="1184" y="495.4" text-anchor="middle" font-size="12.3" fill="#be0712" font-weight="normal" textLength="6.0" lengthAdjust="spacingAndGlyphs" stroke="#be0712" stroke-width="0.32">2</text>
<text x="1275.1" y="211.0" text-anchor="middle" font-size="12.3" fill="#be0712" font-weight="normal" textLength="6.0" lengthAdjust="spacingAndGlyphs" stroke="#be0712" stroke-width="0.32">3</text>
<text x="1296.2" y="304.4" text-anchor="middle" font-size="12.3" fill="#be0712" font-weight="normal" textLength="6.0" lengthAdjust="spacingAndGlyphs" stroke="#be0712" stroke-width="0.32">4</text>
<text x="1331.2" y="196.1" text-anchor="middle" font-size="12.3" fill="#be0712" font-weight="normal" textLength="6.0" lengthAdjust="spacingAndGlyphs" stroke="#be0712" stroke-width="0.32">5</text>
<g shape-rendering="crispEdges">
<rect x="1" y="875" width="1800" height="57" fill="#f1e6f4"/>
</g>
<line x1="1" y1="874.5" x2="1801" y2="874.5" stroke="#595b62" stroke-width="1" stroke-dasharray="6 5" shape-rendering="crispEdges"/>
<line x1="1" y1="932.5" x2="1801" y2="932.5" stroke="#595b62" stroke-width="1" stroke-dasharray="6 5" shape-rendering="crispEdges"/>
<path d="M2.1 889.7 L6.4 877.2 L10.3 849.8 L12.2 859.0 L13.3 874.0 L15.4 884.3 L19.3 874.6 L22.5 876.8 L27.9 884.7 L34.3 893.9 L38.6 900.4 L41.8 902.5 L46.1 909.8 L54.7 920.5 L57.9 912.6 L61.1 907.9 L63.3 907.2 L66.5 911.5 L72.9 899.1 L75.5 901.9 L77.6 895.4 L79.8 900.4 L84.7 893.3 L88.4 882.6 L94.4 870.8 L98.7 865.4 L102.5 872.9 L107.2 868.2 L111.5 860.1 L116.9 851.0 L122.3 846.1 L126.5 841.8 L130.8 840.8 L137.3 837.5 L145.4 835.4 L148.0 848.3 L150.1 849.3 L159.8 840.8 L161.3 835.4 L163.4 837.5 L170.5 835.4 L172.7 839.7 L174.8 852.5 L176.9 852.5 L180.2 862.2 L183.4 874.0 L186.6 889.4 L188.7 886.9 L190.9 887.9 L196.2 873.6 L198.4 878.3 L202.7 895.4 L205.9 887.5 L209.1 881.9 L212.3 871.8 L218.8 859.0 L221.6 858.3 L223.7 873.4 L227.3 875.1 L229.5 877.6 L231.6 892.2 L234.9 893.3 L236.6 900.4 L240.2 904.5 L244.5 889.7 L246.6 896.5 L248.4 896.5 L253.1 910.5 L255.2 910.5 L259.5 899.7 L266.0 876.1 L270.2 861.8 L274.5 854.7 L277.7 850.4 L279.9 852.5 L284.2 872.5 L287.4 880.4 L291.3 876.8 L293.4 881.1 L297.1 895.4 L300.3 906.2 L304.6 918.4 L306.7 919.0 L308.8 904.5 L311.0 898.7 L315.3 883.6 L318.5 878.7 L320.6 886.9 L322.8 887.5 L326.6 903.4 L329.2 899.7 L333.5 885.4 L337.8 898.2 L341.0 895.4 L345.3 887.9 L348.5 878.3 L351.7 871.2 L353.9 878.3 L357.1 892.2 L359.7 902.5 L362.5 896.5 L364.6 891.8 L366.8 899.1 L369.3 904.5 L371.0 904.0 L374.3 893.3 L377.1 903.4 L380.7 910.0 L382.8 910.5 L384.3 916.2 L387.8 902.9 L390.0 901.9 L392.5 909.5 L396.3 919.5 L402.6 932.1 L406.4 924.6 L411.4 917.0 L415.2 906.9 L419.5 894.8 L421.5 908.2 L423.3 905.7 L427.3 911.2 L430.3 901.1 L432.8 910.7 L438.6 922.6 L440.4 914.5 L442.4 888.0 L445.9 898.1 L449.2 900.1 L450.5 904.4 L453.0 899.4 L456.8 899.4 L458.5 905.7 L460.1 900.6 L461.8 900.6 L463.6 907.7 L465.6 902.7 L468.6 904.4 L471.1 910.0 L473.7 903.2 L476.9 903.7 L479.5 912.0 L481.2 900.6 L485.3 900.6 L487.0 907.7 L489.5 901.1 L492.1 901.9 L494.6 910.2 L497.1 901.1 L500.4 901.1 L502.9 910.7 L505.4 901.1 L507.2 901.1 L509.0 909.5 L511.0 901.1 L513.5 901.9 L515.3 910.7 L517.3 901.1 L521.0 901.1 L522.8 911.2 L524.8 901.1 L526.8 901.9 L528.1 910.7 L529.9 901.1 L533.1 901.1 L535.7 909.5 L537.4 906.2 L539.9 914.5 L541.7 914.5 L543.7 904.4 L549.3 904.4 L551.3 914.5 L553.8 914.5 L555.6 900.6 L556.8 913.2 L558.9 901.9 L560.9 901.9 L562.6 913.2 L564.6 901.9 L566.4 902.7 L568.4 912.0 L570.4 901.9 L574.0 901.9 L576.5 912.0 L578.5 901.9 L580.3 902.7 L582.8 912.0 L585.3 901.9 L591.6 901.9 L593.6 913.8 L596.1 901.9 L597.4 903.2 L599.7 912.7 L601.7 903.2 L604.2 903.2 L606.2 906.9 L607.5 918.3 L608.2 933.4 L609.3 953.6 L613.0 955.6 L615.6 943.5 L619.8 947.3 L622.4 941.7 L625.6 943.0 L629.9 947.3 L632.4 939.2 L635.7 942.2 L638.7 942.7 L640.8 946.8 L643.3 947.3 L645.8 950.5 L649.6 952.3 L652.1 951.0 L657.1 954.1 L660.9 957.3 L667.2 962.9 L669.2 958.6 L673.5 960.4 L677.3 962.9 L681.1 963.6 L683.1 954.8 L685.4 957.3 L688.6 957.9 L692.4 959.4 L694.9 941.0 L697.0 937.2 L698.7 937.7 L700.5 933.4 L702.5 937.2 L704.3 924.1 L706.8 925.8 L711.3 930.9 L715.1 928.4 L717.6 928.4 L720.6 932.1 L723.2 932.7 L725.2 938.4 L727.7 938.4 L730.2 924.6 L733.2 914.5 L735.3 909.5 L737.8 918.3 L739.8 921.3 L742.3 917.5 L744.1 918.3 L745.8 926.4 L747.4 922.6 L749.1 927.1 L750.9 925.8 L752.9 930.1 L755.4 930.9 L758.4 933.4 L760.5 935.4 L762.5 916.3 L764.7 918.3 L766.3 923.3 L768.8 923.3 L770.5 915.3 L772.3 917.0 L774.3 924.6 L776.8 914.5 L779.4 908.2 L781.4 906.4 L783.9 908.7 L786.9 912.7 L789.4 915.3 L791.5 913.2 L794.5 920.8 L797.0 923.8 L799.5 927.1 L801.3 917.8 L803.3 922.1 L805.3 930.9 L807.1 925.8 L809.1 932.1 L811.4 922.8 L815.9 913.8 L818.4 904.4 L820.4 902.4 L822.7 890.6 L825.5 881.7 L828.5 872.9 L830.5 888.0 L832.3 891.8 L834.3 894.8 L836.1 886.0 L838.1 883.5 L840.4 891.3 L842.9 886.8 L845.4 898.1 L849.2 898.6 L851.2 903.2 L853.2 891.1 L855.0 890.1 L856.3 890.1 L858.8 884.3 L861.3 880.5 L865.1 870.4 L867.6 873.7 L869.7 871.7 L871.4 867.1 L873.2 880.5 L874.4 877.5 L876.5 887.5 L878.5 892.3 L881.5 888.0 L884.0 883.0 L885.3 882.2 L887.0 876.7 L889.1 884.3 L890.8 887.3 L893.3 880.5 L896.1 872.4 L898.4 882.5 L900.4 894.3 L902.2 889.3 L904.2 894.3 L905.9 894.8 L907.5 905.2 L909.2 894.3 L913.0 884.3 L916.8 874.2 L921.3 864.6 L923.6 874.2 L925.6 872.2 L927.6 881.7 L929.4 886.0 L931.4 893.8 L933.7 887.5 L935.7 883.0 L937.4 889.3 L938.7 885.0 L940.7 891.1 L944.5 886.8 L946.5 894.3 L948.3 887.5 L950.3 889.3 L952.8 898.1 L954.6 896.9 L956.4 901.9 L959.1 905.7 L960.9 904.4 L962.7 910.7 L964.7 906.4 L966.7 918.3 L970.2 908.2 L971.7 916.5 L975.3 921.3 L977.3 910.0 L979.8 909.5 L983.6 901.1 L985.6 912.0 L987.3 914.0 L989.1 912.5 L992.4 920.1 L994.2 921.3 L996.2 918.8 L998.7 911.5 L1001.2 904.4 L1003.7 899.4 L1007.5 895.6 L1011.3 893.6 L1015.1 890.6 L1018.3 887.5 L1022.6 884.8 L1024.6 874.2 L1028.9 873.4 L1032.0 870.4 L1035.2 866.1 L1039.0 863.3 L1042.0 854.0 L1045.3 847.2 L1049.1 842.7 L1051.6 840.7 L1053.4 858.3 L1055.4 857.8 L1057.2 862.1 L1063.0 862.3 L1065.5 865.4 L1066.7 866.6 L1068.8 883.0 L1070.5 891.1 L1073.0 892.3 L1076.3 896.4 L1078.6 876.7 L1080.6 878.5 L1083.1 869.1 L1085.6 862.8 L1089.4 859.1 L1092.4 856.5 L1094.5 874.2 L1096.2 883.0 L1097.5 875.4 L1099.5 888.5 L1101.3 886.8 L1102.8 893.1 L1105.0 887.5 L1107.1 896.9 L1109.6 908.2 L1111.6 905.7 L1113.4 905.2 L1117.1 893.1 L1119.2 894.8 L1121.7 904.4 L1124.7 904.9 L1127.2 906.9 L1129.0 914.5 L1131.0 923.3 L1132.3 925.1 L1134.8 915.8 L1137.3 914.5 L1139.8 906.4 L1142.8 896.9 L1146.9 888.0 L1149.9 885.5 L1152.4 881.7 L1154.4 880.5 L1156.2 872.9 L1158.0 870.9 L1160.5 879.2 L1162.5 874.2 L1165.5 867.4 L1167.0 867.9 L1169.6 866.6 L1171.3 877.5 L1173.1 876.7 L1175.1 889.3 L1177.1 898.9 L1179.6 900.6 L1182.2 908.2 L1185.2 918.8 L1187.7 904.4 L1189.7 900.1 L1191.5 902.7 L1193.2 894.3 L1195.3 888.8 L1198.5 888.5 L1200.3 894.8 L1203.3 895.6 L1204.8 897.6 L1206.6 895.1 L1208.4 904.4 L1210.4 905.7 L1212.4 905.2 L1214.7 894.3 L1216.7 892.3 L1218.4 883.0 L1220.5 878.5 L1222.5 893.1 L1224.2 889.3 L1225.5 882.2 L1227.5 889.3 L1230.0 879.2 L1233.1 871.7 L1236.8 864.9 L1241.4 857.8 L1243.1 862.1 L1246.4 856.5 L1250.7 852.8 L1254.5 849.7 L1257.8 848.2 L1262.0 844.7 L1268.3 842.7 L1274.1 841.4 L1276.4 864.1 L1278.4 864.6 L1280.2 867.9 L1282.2 882.2 L1284.0 877.5 L1286.0 875.4 L1288.5 891.3 L1289.3 885.5 L1291.5 893.6 L1294.1 890.6 L1296.8 884.3 L1299.8 875.9" fill="none" stroke="#a640ae" stroke-width="1" stroke-linejoin="round"/>
<g shape-rendering="crispEdges">
<rect x="1" y="818" width="1864" height="1" fill="#4a4e5c"/>
<rect x="1" y="977" width="1864" height="1" fill="#4a4e5c"/>
<rect x="1802" y="2" width="1" height="1002" fill="#4a4e5c"/>
<rect x="1803" y="816" width="4" height="1" fill="#4a4e5c"/>
<rect x="1803" y="771" width="4" height="1" fill="#4a4e5c"/>
<rect x="1803" y="726" width="4" height="1" fill="#4a4e5c"/>
<rect x="1803" y="681" width="4" height="1" fill="#4a4e5c"/>
<rect x="1803" y="636" width="4" height="1" fill="#4a4e5c"/>
<rect x="1803" y="591" width="4" height="1" fill="#4a4e5c"/>
<rect x="1803" y="546" width="4" height="1" fill="#4a4e5c"/>
<rect x="1803" y="501" width="4" height="1" fill="#4a4e5c"/>
<rect x="1803" y="456" width="4" height="1" fill="#4a4e5c"/>
<rect x="1803" y="411" width="4" height="1" fill="#4a4e5c"/>
<rect x="1803" y="366" width="4" height="1" fill="#4a4e5c"/>
<rect x="1803" y="321" width="4" height="1" fill="#4a4e5c"/>
<rect x="1803" y="276" width="4" height="1" fill="#4a4e5c"/>
<rect x="1803" y="186" width="4" height="1" fill="#4a4e5c"/>
<rect x="1803" y="141" width="4" height="1" fill="#4a4e5c"/>
<rect x="1803" y="96" width="4" height="1" fill="#4a4e5c"/>
<rect x="1803" y="51" width="4" height="1" fill="#4a4e5c"/>
<rect x="1803" y="6" width="4" height="1" fill="#4a4e5c"/>
<rect x="1803" y="830" width="4" height="1" fill="#4a4e5c"/>
<rect x="1803" y="866" width="4" height="1" fill="#4a4e5c"/>
<rect x="1803" y="903" width="4" height="1" fill="#4a4e5c"/>
<rect x="1803" y="939" width="4" height="1" fill="#4a4e5c"/>
<rect x="1802" y="227" width="60" height="18" fill="#fff"/>
<rect x="1803" y="236" width="4" height="1" fill="#000"/>
<rect x="18" y="978" width="1" height="3" fill="#4a4e5c"/>
<rect x="142" y="978" width="1" height="3" fill="#4a4e5c"/>
<rect x="251" y="978" width="1" height="3" fill="#4a4e5c"/>
<rect x="333" y="978" width="1" height="3" fill="#4a4e5c"/>
<rect x="443" y="978" width="1" height="3" fill="#4a4e5c"/>
<rect x="528" y="978" width="1" height="3" fill="#4a4e5c"/>
<rect x="614" y="978" width="1" height="3" fill="#4a4e5c"/>
<rect x="775" y="978" width="1" height="3" fill="#4a4e5c"/>
<rect x="856" y="978" width="1" height="3" fill="#4a4e5c"/>
<rect x="965" y="978" width="1" height="3" fill="#4a4e5c"/>
<rect x="1073" y="978" width="1" height="3" fill="#4a4e5c"/>
<rect x="1225" y="978" width="1" height="3" fill="#4a4e5c"/>
</g>
<g font-size="12.2" fill="#4f5361" stroke="#4f5361" stroke-width="0.2">
<clipPath id="c0"><rect x="1806" y="800" width="59" height="18"/></clipPath>
<text x="1811.5" y="820.8" textLength="5.9" lengthAdjust="spacingAndGlyphs" clip-path="url(#c0)">0</text>
<text x="1811.5" y="775.8" textLength="23.7" lengthAdjust="spacingAndGlyphs">1000</text>
<text x="1811.5" y="730.8" textLength="23.7" lengthAdjust="spacingAndGlyphs">2000</text>
<text x="1811.5" y="685.8" textLength="23.7" lengthAdjust="spacingAndGlyphs">3000</text>
<text x="1811.5" y="640.9" textLength="23.7" lengthAdjust="spacingAndGlyphs">4000</text>
<text x="1811.5" y="595.9" textLength="23.7" lengthAdjust="spacingAndGlyphs">5000</text>
<text x="1811.5" y="550.9" textLength="23.7" lengthAdjust="spacingAndGlyphs">6000</text>
<text x="1811.5" y="505.9" textLength="23.7" lengthAdjust="spacingAndGlyphs">7000</text>
<text x="1811.5" y="460.9" textLength="23.7" lengthAdjust="spacingAndGlyphs">8000</text>
<text x="1811.5" y="416.0" textLength="23.7" lengthAdjust="spacingAndGlyphs">9000</text>
<text x="1811.5" y="371.0" textLength="29.6" lengthAdjust="spacingAndGlyphs">10000</text>
<text x="1811.5" y="326.0" textLength="29.6" lengthAdjust="spacingAndGlyphs">11000</text>
<text x="1811.5" y="281.0" textLength="29.6" lengthAdjust="spacingAndGlyphs">12000</text>
<text x="1811.5" y="191.1" textLength="29.6" lengthAdjust="spacingAndGlyphs">14000</text>
<text x="1811.5" y="146.1" textLength="29.6" lengthAdjust="spacingAndGlyphs">15000</text>
<text x="1811.5" y="101.1" textLength="29.6" lengthAdjust="spacingAndGlyphs">16000</text>
<text x="1811.5" y="56.2" textLength="29.6" lengthAdjust="spacingAndGlyphs">17000</text>
<text x="1811.5" y="11.2" textLength="29.6" lengthAdjust="spacingAndGlyphs">18000</text>
<text x="1811.2" y="835.2" textLength="46" lengthAdjust="spacingAndGlyphs">100.0000</text>
<text x="1811.2" y="871.2" textLength="40" lengthAdjust="spacingAndGlyphs">75.0000</text>
<text x="1811.2" y="908.1" textLength="40" lengthAdjust="spacingAndGlyphs">50.0000</text>
<text x="1811.2" y="944.1" textLength="40" lengthAdjust="spacingAndGlyphs">25.0000</text>
</g>
<text x="1811.5" y="240.6" font-size="12.2" fill="#000" stroke="#000" stroke-width="0.25" textLength="29.6" lengthAdjust="spacingAndGlyphs">12900</text>
<g font-size="12.4" fill="#4f5361" stroke="#4f5361" stroke-width="0.2" text-anchor="middle">
<text x="18.3" y="997.6">Sep</text>
<text x="142.5" y="997.6">2020</text>
<text x="251.3" y="997.6">Apr</text>
<text x="333.3" y="997.6">6</text>
<text x="443.4" y="997.6">2021</text>
<text x="528.7" y="997.6">Apr</text>
<text x="614.6" y="997.6">Sep</text>
<text x="775.5" y="997.6">2022</text>
<text x="856.2" y="997.6">Mar</text>
<text x="965.3" y="997.6">Jun</text>
<text x="1073.6" y="997.6">Sep</text>
<text x="1225.2" y="997.6">2023</text>
</g>
<g stroke="#131722" stroke-width="1.2" fill="none"><circle cx="1833.5" cy="991.4" r="4.8"/>
<line x1="1838.70" y1="991.40" x2="1840.90" y2="991.40"/>
<line x1="1837.46" y1="995.36" x2="1838.45" y2="996.35"/>
<line x1="1833.50" y1="996.60" x2="1833.50" y2="998.80"/>
<line x1="1829.54" y1="995.36" x2="1828.55" y2="996.35"/>
<line x1="1828.30" y1="991.40" x2="1826.10" y2="991.40"/>
<line x1="1829.54" y1="987.44" x2="1828.55" y2="986.45"/>
<line x1="1833.50" y1="986.20" x2="1833.50" y2="984.00"/>
<line x1="1837.46" y1="987.44" x2="1838.45" y2="986.45"/>
</g>
<rect x="9.5" y="34.5" width="20" height="20" rx="3" fill="#fff" stroke="#d4d8e3" stroke-width="1"/>
<path d="M15.4 42.8 L19.5 46.3 L23.6 42.3" fill="none" stroke="#131722" stroke-width="1.3"/>
<rect x="9.5" y="825.5" width="20" height="20" rx="3" fill="#fff" stroke="#d4d8e3" stroke-width="1"/>
<path d="M15.4 833.8 L19.5 837.3 L23.6 833.3" fill="none" stroke="#131722" stroke-width="1.3"/>
<text x="117" y="23" direction="rtl" text-anchor="start" font-family="'DejaVu Sans',sans-serif" font-size="13" fill="#131722" stroke="#131722" stroke-width="0.35" textLength="105.5" lengthAdjust="spacingAndGlyphs">داروسازی الحاوی</text>
<rect x="122.6" y="14.6" width="2.4" height="2.4" rx="1" fill="#8a8d97"/>
<text x="129.5" y="23.7" font-size="15" fill="#131722" textLength="18.6" lengthAdjust="spacingAndGlyphs" stroke="#131722" stroke-width="0.3">1D</text>
<rect x="154.1" y="14.6" width="2.4" height="2.4" rx="1" fill="#8a8d97"/>
<text x="217" y="23" direction="rtl" text-anchor="start" font-family="'DejaVu Sans',sans-serif" font-size="13" fill="#131722" stroke="#131722" stroke-width="0.35" textLength="55" lengthAdjust="spacingAndGlyphs">فرابورس</text>
<text x="227.3" y="22" font-size="13.3" textLength="44.3" lengthAdjust="spacingAndGlyphs" stroke-width="0.3"><tspan fill="#6a6d78" stroke="#6a6d78" stroke-width="0.15">O</tspan><tspan fill="#131722" stroke="#131722">12500</tspan></text>
<text x="278.5" y="22" font-size="13.3" textLength="44.3" lengthAdjust="spacingAndGlyphs" stroke-width="0.3"><tspan fill="#6a6d78" stroke="#6a6d78" stroke-width="0.15">H</tspan><tspan fill="#131722" stroke="#131722">12900</tspan></text>
<text x="330" y="22" font-size="13.3" textLength="42" lengthAdjust="spacingAndGlyphs" stroke-width="0.3"><tspan fill="#6a6d78" stroke="#6a6d78" stroke-width="0.15">L</tspan><tspan fill="#131722" stroke="#131722">12500</tspan></text>
<text x="378.7" y="22" font-size="13.3" textLength="43.1" lengthAdjust="spacingAndGlyphs" stroke-width="0.3"><tspan fill="#6a6d78" stroke="#6a6d78" stroke-width="0.15">C</tspan><tspan fill="#131722" stroke="#131722">12900</tspan></text>
<text x="429.9" y="22.3" font-size="9.5" fill="#131722" textLength="5" lengthAdjust="spacingAndGlyphs" stroke="#131722" stroke-width="0.3">+</text>
<text x="435.5" y="22" font-size="13.3" fill="#131722" textLength="20.6" lengthAdjust="spacingAndGlyphs" stroke="#131722" stroke-width="0.3">360</text>
<text x="460.6" y="21.6" font-size="12.5" fill="#131722" textLength="3.2" lengthAdjust="spacingAndGlyphs" stroke="#131722" stroke-width="0.3">(</text>
<text x="466" y="22.3" font-size="9.5" fill="#131722" textLength="5" lengthAdjust="spacingAndGlyphs" stroke="#131722" stroke-width="0.3">+</text>
<text x="471.7" y="22" font-size="13.3" fill="#131722" textLength="37.8" lengthAdjust="spacingAndGlyphs" stroke="#131722" stroke-width="0.3">2.87%</text>
<text x="512.6" y="21.6" font-size="12.5" fill="#131722" textLength="3.2" lengthAdjust="spacingAndGlyphs" stroke="#131722" stroke-width="0.3">)</text>
<text x="37" y="46.7" font-size="12.4" fill="#131722" textLength="42.6" lengthAdjust="spacingAndGlyphs" stroke="#131722" stroke-width="0.3">Volume</text>
<text x="84.5" y="46.7" font-size="12.4" fill="#60636e" textLength="13.4" lengthAdjust="spacingAndGlyphs" stroke="#60636e" stroke-width="0.1">20</text>
<text x="107.7" y="46.7" font-size="12.4" fill="#53b987" textLength="27.5" lengthAdjust="spacingAndGlyphs" stroke="#53b987" stroke-width="0.3">1.6M</text>
<text x="142.4" y="46.7" font-size="12.4" fill="#2196f3" textLength="42.9" lengthAdjust="spacingAndGlyphs" stroke="#2196f3" stroke-width="0.3">2.474M</text>
<text x="37.5" y="838.2" font-size="12.4" fill="#131722" textLength="19.3" lengthAdjust="spacingAndGlyphs" stroke="#131722" stroke-width="0.3">RSI</text>
<text x="62.2" y="838.2" font-size="12.4" fill="#60636e" textLength="12.8" lengthAdjust="spacingAndGlyphs" stroke="#60636e" stroke-width="0.1">14</text>
<text x="84.7" y="838.2" font-size="12.4" fill="#800a80" textLength="46.8" lengthAdjust="spacingAndGlyphs" stroke="#800a80" stroke-width="0.4">68.6558</text>
<circle cx="25.45" cy="946.8" r="16.5" fill="#fff" stroke="#dedede" stroke-width="1"/>
<path d="M17.2 953 C14.6 953 14 950.6 14.6 949 C15.2 947.2 16.8 946.4 18.6 946.6 C18.6 943 21 940.2 24.2 940.2 C26.8 940.2 28.6 941.8 29.6 943.8 C30.6 943.2 32 943.4 32.8 944.6 C35.2 945.8 36.8 948 36.6 950.2 C36.4 952 35.2 953 33.6 953 Z" fill="#2e9fea"/>
<path d="M14.6 950 L22.8 944.3 L28.2 950.2 L33.6 944.6" fill="none" stroke="#fff" stroke-width="1.2"/>
<circle cx="22.8" cy="944.5" r="1.2" fill="#fff"/><circle cx="28.2" cy="950.1" r="1.3" fill="#fff"/>
</svg>
</body></html>
